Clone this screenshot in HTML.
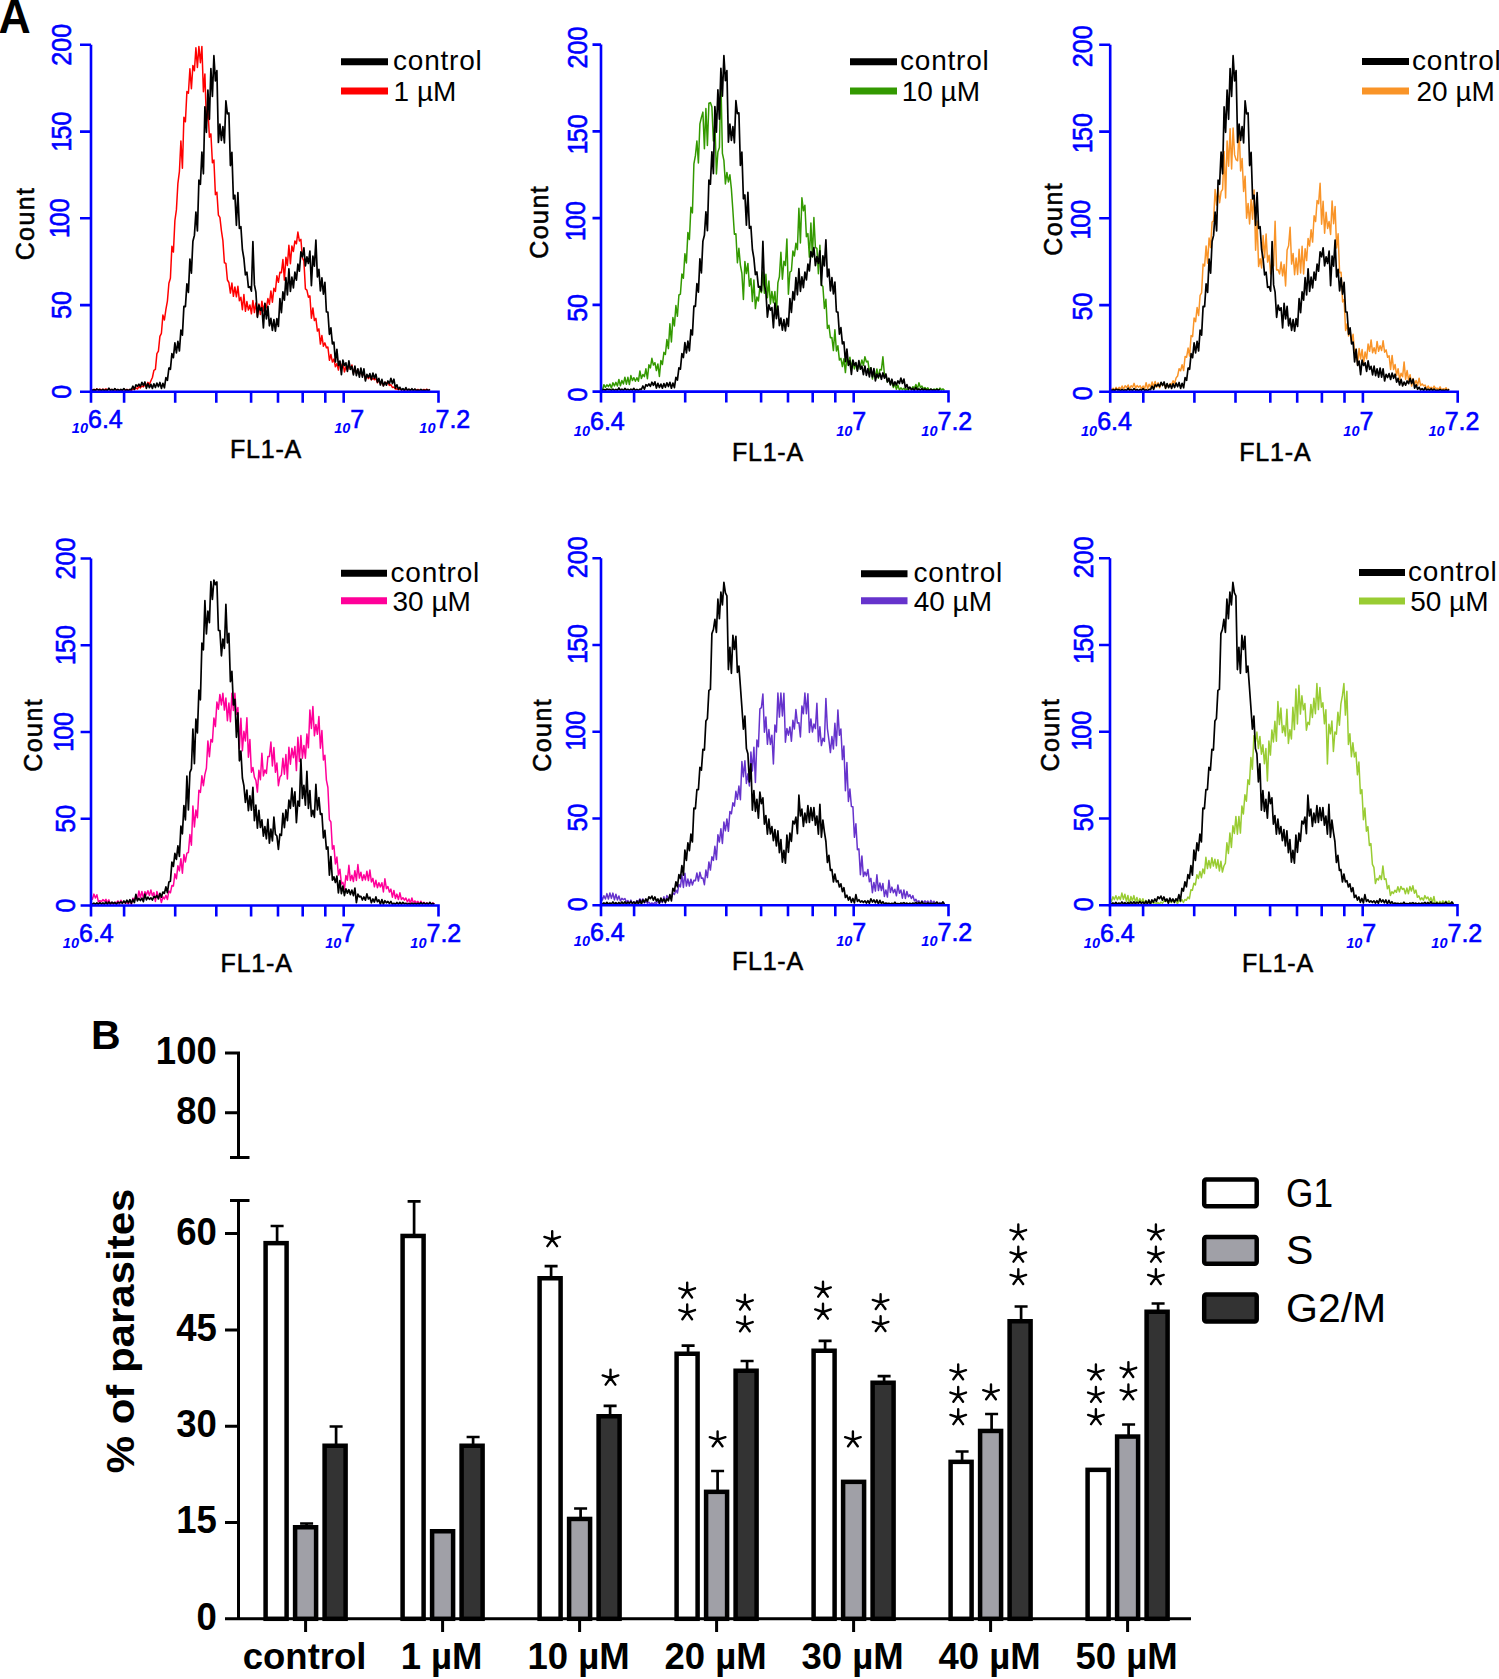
<!DOCTYPE html><html><head><meta charset="utf-8"><style>html,body{margin:0;padding:0;background:#fff;}svg{display:block;font-family:"Liberation Sans", sans-serif;}</style></head><body>
<svg width="1499" height="1679" viewBox="0 0 1499 1679">
<rect width="100%" height="100%" fill="#fff"/>
<text transform="translate(-1.5,32.8) scale(0.93,1)" font-size="48" font-weight="bold" fill="#000">A</text>
<path d="M90.9,388.9 L92.4,390.0 L93.9,389.5 L95.4,390.1 L96.9,388.9 L98.4,390.6 L99.9,389.1 L101.4,389.9 L102.9,389.3 L104.4,389.9 L105.9,388.9 L107.4,389.8 L108.9,388.8 L110.4,390.1 L111.9,389.5 L113.4,390.3 L114.9,389.7 L116.4,390.0 L117.9,389.5 L119.4,390.5 L120.9,389.6 L122.4,390.6 L123.9,389.4 L125.4,390.2 L126.9,389.5 L128.4,390.4 L129.9,389.6 L131.4,390.5 L132.9,388.9 L134.4,389.5 L135.9,387.8 L137.4,389.0 L138.9,386.5 L140.4,387.9 L141.9,385.9 L143.4,386.9 L144.9,384.9 L146.4,386.0 L147.9,382.4 L149.4,384.5 L150.9,380.8 L152.4,377.5 L153.9,370.3 L155.4,369.4 L156.9,353.6 L158.4,351.1 L159.9,336.3 L161.4,333.3 L162.9,315.1 L164.4,320.0 L165.9,309.3 L167.4,301.1 L168.9,283.3 L170.4,278.3 L171.9,246.2 L173.4,252.1 L174.9,220.5 L176.4,209.9 L177.9,183.3 L179.4,171.6 L180.9,140.9 L182.4,168.3 L183.9,117.3 L185.4,121.7 L186.9,91.6 L188.4,93.3 L189.9,68.8 L191.4,88.7 L192.9,65.4 L194.4,70.7 L195.9,47.8 L197.4,67.4 L198.9,46.4 L200.4,62.8 L201.9,46.4 L203.4,91.7 L204.9,73.9 L206.4,121.5 L207.9,108.6 L209.4,137.3 L210.9,133.9 L212.4,162.8 L213.9,160.0 L215.4,194.7 L216.9,192.2 L218.4,215.1 L219.9,217.3 L221.4,230.6 L222.9,240.6 L224.4,262.7 L225.9,263.4 L227.4,280.0 L228.9,282.5 L230.4,293.1 L231.9,283.0 L233.4,296.3 L234.9,286.9 L236.4,296.8 L237.9,286.3 L239.4,300.8 L240.9,297.3 L242.4,309.7 L243.9,294.5 L245.4,311.3 L246.9,301.6 L248.4,310.1 L249.9,304.9 L251.4,313.8 L252.9,300.4 L254.4,312.6 L255.9,302.9 L257.4,316.4 L258.9,303.9 L260.4,314.4 L261.9,301.2 L263.4,310.9 L264.9,303.6 L266.4,307.9 L267.9,298.6 L269.4,304.3 L270.9,290.9 L272.4,302.2 L273.9,288.2 L275.4,291.4 L276.9,275.8 L278.4,282.3 L279.9,272.2 L281.4,272.8 L282.9,259.6 L284.4,280.1 L285.9,257.2 L287.4,265.5 L288.9,245.2 L290.4,263.8 L291.9,245.9 L293.4,251.5 L294.9,240.9 L296.4,243.8 L297.9,232.0 L299.4,241.0 L300.9,239.4 L302.4,258.0 L303.9,260.9 L305.4,288.9 L306.9,290.1 L308.4,297.2 L309.9,295.9 L311.4,318.2 L312.9,307.9 L314.4,320.6 L315.9,318.3 L317.4,331.1 L318.9,328.9 L320.4,344.1 L321.9,335.5 L323.4,346.3 L324.9,342.9 L326.4,347.7 L327.9,347.0 L329.4,360.2 L330.9,354.5 L332.4,362.1 L333.9,359.0 L335.4,366.8 L336.9,363.6 L338.4,370.1 L339.9,361.4 L341.4,368.7 L342.9,362.0 L344.4,372.0 L345.9,366.7 L347.4,370.0 L348.9,365.2 L350.4,369.2 L351.9,364.9 L353.4,373.3 L354.9,368.6 L356.4,373.1 L357.9,369.5 L359.4,374.3 L360.9,371.6 L362.4,375.8 L363.9,372.5 L365.4,379.3 L366.9,375.6 L368.4,378.6 L369.9,376.8 L371.4,379.9 L372.9,378.0 L374.4,379.7 L375.9,378.5 L377.4,382.8 L378.9,380.3 L380.4,383.4 L381.9,382.7 L383.4,385.7 L384.9,382.3 L386.4,383.0 L387.9,382.6 L389.4,385.4 L390.9,384.7 L392.4,387.5 L393.9,387.1 L395.4,388.9 L396.9,388.7 L398.4,389.7 L399.9,389.0 L401.4,390.0 L402.9,389.6 L404.4,390.3 L405.9,389.3 L407.4,390.2 L408.9,389.5 L410.4,390.0 L411.9,389.5 L413.4,390.1 L414.9,389.5 L416.4,390.4 L417.9,389.4 L419.4,390.5 L420.9,389.9 L422.4,390.4 L423.9,389.5 L425.4,390.1 L426.9,389.2 L428.4,390.6 L429.9,389.5" fill="none" stroke="#ff0000" stroke-width="1.5" stroke-linejoin="round"/>
<path d="M90.9,389.2 L92.4,390.6 L93.9,389.6 L95.4,390.5 L96.9,389.2 L98.4,389.8 L99.9,389.6 L101.4,390.6 L102.9,389.3 L104.4,390.6 L105.9,389.6 L107.4,390.6 L108.9,388.2 L110.4,390.4 L111.9,389.4 L113.4,390.6 L114.9,388.6 L116.4,390.3 L117.9,389.5 L119.4,390.6 L120.9,389.4 L122.4,390.3 L123.9,388.6 L125.4,390.6 L126.9,389.6 L128.4,390.6 L129.9,389.4 L131.4,389.6 L132.9,386.2 L134.4,389.4 L135.9,384.9 L137.4,386.2 L138.9,384.2 L140.4,386.5 L141.9,382.4 L143.4,385.5 L144.9,382.0 L146.4,388.3 L147.9,383.5 L149.4,387.7 L150.9,384.3 L152.4,388.4 L153.9,383.8 L155.4,387.5 L156.9,383.0 L158.4,386.7 L159.9,382.5 L161.4,388.4 L162.9,383.3 L164.4,387.8 L165.9,377.6 L167.4,380.3 L168.9,368.0 L170.4,369.3 L171.9,353.7 L173.4,357.7 L174.9,342.9 L176.4,353.0 L177.9,341.4 L179.4,351.0 L180.9,330.1 L182.4,335.1 L183.9,306.4 L185.4,306.6 L186.9,283.9 L188.4,292.4 L189.9,259.1 L191.4,273.1 L192.9,241.3 L194.4,235.4 L195.9,212.0 L197.4,230.9 L198.9,180.2 L200.4,184.3 L201.9,152.0 L203.4,173.8 L204.9,106.8 L206.4,132.3 L207.9,90.1 L209.4,119.3 L210.9,68.5 L212.4,96.4 L213.9,55.7 L215.4,80.9 L216.9,70.7 L218.4,142.4 L219.9,124.2 L221.4,140.5 L222.9,126.7 L224.4,143.0 L225.9,100.9 L227.4,113.8 L228.9,113.0 L230.4,165.6 L231.9,152.4 L233.4,199.0 L234.9,195.2 L236.4,225.3 L237.9,192.6 L239.4,228.5 L240.9,226.7 L242.4,249.7 L243.9,258.5 L245.4,274.8 L246.9,272.2 L248.4,287.3 L249.9,286.7 L251.4,291.1 L252.9,241.6 L254.4,284.9 L255.9,292.2 L257.4,317.3 L258.9,305.1 L260.4,310.3 L261.9,307.8 L263.4,328.0 L264.9,303.4 L266.4,318.9 L267.9,306.4 L269.4,325.8 L270.9,318.4 L272.4,330.4 L273.9,319.7 L275.4,331.2 L276.9,318.6 L278.4,326.5 L279.9,298.7 L281.4,312.7 L282.9,291.9 L284.4,300.2 L285.9,277.7 L287.4,295.0 L288.9,268.9 L290.4,291.5 L291.9,277.0 L293.4,287.9 L294.9,272.2 L296.4,280.1 L297.9,264.2 L299.4,271.2 L300.9,251.8 L302.4,256.8 L303.9,247.9 L305.4,265.9 L306.9,256.8 L308.4,263.5 L309.9,251.0 L311.4,285.7 L312.9,256.1 L314.4,266.2 L315.9,240.0 L317.4,277.0 L318.9,269.3 L320.4,291.0 L321.9,277.9 L323.4,294.2 L324.9,282.3 L326.4,312.0 L327.9,312.2 L329.4,334.3 L330.9,327.9 L332.4,344.0 L333.9,342.1 L335.4,361.9 L336.9,349.4 L338.4,365.5 L339.9,361.0 L341.4,374.7 L342.9,360.2 L344.4,365.5 L345.9,362.8 L347.4,371.4 L348.9,360.8 L350.4,369.4 L351.9,366.3 L353.4,374.8 L354.9,366.2 L356.4,375.6 L357.9,368.8 L359.4,377.1 L360.9,368.0 L362.4,377.1 L363.9,368.9 L365.4,381.0 L366.9,374.4 L368.4,377.5 L369.9,373.6 L371.4,379.5 L372.9,373.1 L374.4,378.3 L375.9,374.2 L377.4,382.2 L378.9,378.4 L380.4,385.0 L381.9,379.4 L383.4,386.0 L384.9,382.1 L386.4,385.2 L387.9,381.0 L389.4,383.7 L390.9,378.3 L392.4,383.6 L393.9,379.2 L395.4,388.1 L396.9,384.8 L398.4,389.3 L399.9,387.3 L401.4,390.0 L402.9,388.6 L404.4,390.6 L405.9,387.6 L407.4,390.4 L408.9,389.2 L410.4,390.5 L411.9,388.7 L413.4,390.6 L414.9,389.0 L416.4,390.6 L417.9,390.0 L419.4,390.6 L420.9,389.3 L422.4,390.6 L423.9,390.0 L425.4,390.6 L426.9,389.6 L428.4,390.6 L429.9,389.3" fill="none" stroke="#000" stroke-width="1.7" stroke-linejoin="round"/>
<path d="M91.0,44.8 V391.8 H438.5 V402.8" fill="none" stroke="#0000ff" stroke-width="2.6"/>
<path d="M80.0,391.8 H91.0 M80.0,305.1 H91.0 M80.0,218.3 H91.0 M80.0,131.6 H91.0 M80.0,44.8 H91.0 M91.0,391.8 V402.8 M124.1,391.8 V402.8 M175.2,391.8 V402.8 M216.3,391.8 V402.8 M251.1,391.8 V402.8 M278.0,391.8 V402.8 M302.7,391.8 V402.8 M325.3,391.8 V402.8 M343.7,391.8 V402.8 " fill="none" stroke="#0000ff" stroke-width="2.6"/>
<text transform="translate(71.0,391.8) rotate(-90) scale(0.88,1)" font-size="28.5" fill="#0000ff" stroke="#0000ff" stroke-width="0.6" text-anchor="middle">0</text>
<text transform="translate(71.0,305.1) rotate(-90) scale(0.88,1)" font-size="28.5" fill="#0000ff" stroke="#0000ff" stroke-width="0.6" text-anchor="middle">50</text>
<text transform="translate(69.0,218.3) rotate(-90) scale(0.88,1)" font-size="28.5" fill="#0000ff" stroke="#0000ff" stroke-width="0.6" text-anchor="middle">1<tspan dx="-2">00</tspan></text>
<text transform="translate(71.0,131.6) rotate(-90) scale(0.88,1)" font-size="28.5" fill="#0000ff" stroke="#0000ff" stroke-width="0.6" text-anchor="middle">1<tspan dx="-2">50</tspan></text>
<text transform="translate(71.0,44.8) rotate(-90) scale(0.88,1)" font-size="28.5" fill="#0000ff" stroke="#0000ff" stroke-width="0.6" text-anchor="middle">200</text>
<text transform="translate(34.3,223.5) rotate(-90)" font-size="25" fill="#000" stroke="#000" stroke-width="0.55" text-anchor="middle" letter-spacing="1.4">Count</text>
<text x="88.0" y="433.3" font-size="14.5" font-weight="bold" fill="#0000ff" text-anchor="end" font-style="italic">10</text>
<text x="88.0" y="427.8" font-size="25" fill="#0000ff" stroke="#0000ff" stroke-width="0.6">6.4</text>
<text x="350.3" y="433.3" font-size="14.5" font-weight="bold" fill="#0000ff" text-anchor="end" font-style="italic">10</text>
<text x="350.3" y="427.8" font-size="25" fill="#0000ff" stroke="#0000ff" stroke-width="0.6">7</text>
<text x="435.5" y="433.3" font-size="14.5" font-weight="bold" fill="#0000ff" text-anchor="end" font-style="italic">10</text>
<text x="435.5" y="427.8" font-size="25" fill="#0000ff" stroke="#0000ff" stroke-width="0.6">7.2</text>
<text x="230.0" y="458.0" font-size="25" fill="#000" stroke="#000" stroke-width="0.55" letter-spacing="0.8">FL1-A</text>
<path d="M341.0,61.8 H388.0" stroke="#000" stroke-width="7"/>
<path d="M341.0,91.0 H388.0" stroke="#ff0000" stroke-width="7"/>
<text x="393.0" y="70.3" font-size="28" fill="#000" letter-spacing="0.8">control</text>
<text x="393.6" y="100.8" font-size="28" fill="#000">1 µM</text>
<path d="M600.9,387.0 L602.4,390.4 L603.9,384.7 L605.4,387.4 L606.9,384.8 L608.4,386.6 L609.9,384.1 L611.4,388.1 L612.9,382.7 L614.4,385.9 L615.9,382.4 L617.4,386.0 L618.9,379.4 L620.4,385.8 L621.9,380.5 L623.4,384.0 L624.9,377.2 L626.4,384.2 L627.9,377.3 L629.4,384.5 L630.9,375.6 L632.4,380.6 L633.9,377.7 L635.4,381.3 L636.9,377.8 L638.4,381.3 L639.9,370.9 L641.4,378.5 L642.9,374.4 L644.4,376.7 L645.9,368.8 L647.4,378.7 L648.9,364.8 L650.4,367.9 L651.9,358.3 L653.4,365.1 L654.9,362.7 L656.4,370.5 L657.9,364.0 L659.4,376.5 L660.9,360.4 L662.4,364.5 L663.9,352.3 L665.4,354.5 L666.9,339.6 L668.4,348.6 L669.9,323.7 L671.4,341.9 L672.9,317.6 L674.4,325.9 L675.9,305.5 L677.4,316.3 L678.9,295.0 L680.4,294.1 L681.9,273.9 L683.4,278.3 L684.9,253.7 L686.4,262.9 L687.9,232.4 L689.4,239.5 L690.9,207.3 L692.4,212.9 L693.9,163.9 L695.4,155.7 L696.9,140.9 L698.4,163.0 L699.9,123.9 L701.4,117.4 L702.9,112.1 L704.4,148.7 L705.9,108.6 L707.4,145.5 L708.9,103.3 L710.4,102.6 L711.9,107.1 L713.4,140.9 L714.9,123.0 L716.4,174.0 L717.9,151.9 L719.4,147.6 L720.9,78.9 L722.4,153.4 L723.9,160.4 L725.4,183.9 L726.9,172.4 L728.4,181.9 L729.9,174.8 L731.4,189.1 L732.9,210.8 L734.4,234.2 L735.9,233.7 L737.4,262.8 L738.9,248.3 L740.4,265.1 L741.9,273.5 L743.4,299.5 L744.9,261.6 L746.4,273.6 L747.9,263.4 L749.4,286.2 L750.9,278.5 L752.4,301.4 L753.9,280.1 L755.4,308.6 L756.9,297.0 L758.4,301.0 L759.9,287.1 L761.4,292.6 L762.9,272.0 L764.4,293.2 L765.9,274.2 L767.4,297.7 L768.9,281.0 L770.4,303.9 L771.9,291.4 L773.4,302.7 L774.9,291.5 L776.4,314.1 L777.9,282.6 L779.4,276.6 L780.9,252.3 L782.4,279.2 L783.9,261.3 L785.4,265.5 L786.9,238.9 L788.4,294.2 L789.9,272.2 L791.4,271.0 L792.9,251.0 L794.4,256.0 L795.9,243.2 L797.4,249.6 L798.9,208.2 L800.4,243.0 L801.9,197.8 L803.4,210.7 L804.9,205.3 L806.4,236.7 L807.9,233.6 L809.4,257.1 L810.9,223.1 L812.4,257.0 L813.9,217.6 L815.4,247.5 L816.9,248.3 L818.4,273.7 L819.9,245.2 L821.4,284.8 L822.9,286.5 L824.4,308.4 L825.9,299.3 L827.4,328.5 L828.9,325.2 L830.4,337.7 L831.9,337.6 L833.4,350.6 L834.9,329.8 L836.4,351.0 L837.9,345.8 L839.4,360.1 L840.9,358.4 L842.4,366.6 L843.9,358.8 L845.4,372.6 L846.9,356.7 L848.4,364.9 L849.9,357.2 L851.4,367.2 L852.9,361.1 L854.4,368.9 L855.9,363.3 L857.4,370.0 L858.9,366.1 L860.4,366.1 L861.9,360.0 L863.4,365.3 L864.9,356.7 L866.4,361.9 L867.9,361.1 L869.4,371.3 L870.9,367.7 L872.4,379.0 L873.9,371.2 L875.4,376.6 L876.9,368.9 L878.4,378.2 L879.9,369.4 L881.4,369.9 L882.9,356.8 L884.4,374.5 L885.9,375.5 L887.4,381.9 L888.9,379.1 L890.4,383.3 L891.9,382.3 L893.4,387.6 L894.9,383.7 L896.4,389.3 L897.9,385.1 L899.4,390.1 L900.9,387.8 L902.4,389.7 L903.9,388.3 L905.4,390.4 L906.9,388.8 L908.4,390.1 L909.9,387.7 L911.4,389.3 L912.9,386.7 L914.4,388.3 L915.9,384.4 L917.4,389.1 L918.9,382.8 L920.4,387.5 L921.9,386.0 L923.4,388.9 L924.9,387.5 L926.4,389.3 L927.9,387.9 L929.4,390.3 L930.9,389.1 L932.4,390.0 L933.9,389.0 L935.4,389.8 L936.9,388.6 L938.4,390.4 L939.9,388.1 L941.4,389.9 L942.9,388.9 L944.4,390.4" fill="none" stroke="#339900" stroke-width="1.5" stroke-linejoin="round"/>
<path d="M600.9,389.0 L602.4,390.4 L603.9,389.4 L605.4,390.3 L606.9,389.0 L608.4,389.6 L609.9,389.4 L611.4,390.4 L612.9,389.1 L614.4,390.4 L615.9,389.4 L617.4,390.4 L618.9,388.0 L620.4,390.2 L621.9,389.2 L623.4,390.4 L624.9,388.4 L626.4,390.1 L627.9,389.3 L629.4,390.4 L630.9,389.2 L632.4,390.1 L633.9,388.4 L635.4,390.4 L636.9,389.4 L638.4,390.4 L639.9,389.2 L641.4,389.4 L642.9,386.0 L644.4,389.2 L645.9,384.7 L647.4,386.0 L648.9,384.0 L650.4,386.3 L651.9,382.2 L653.4,385.3 L654.9,381.8 L656.4,388.1 L657.9,383.3 L659.4,387.5 L660.9,384.1 L662.4,388.2 L663.9,383.6 L665.4,387.3 L666.9,382.8 L668.4,386.5 L669.9,382.3 L671.4,388.2 L672.9,383.1 L674.4,387.6 L675.9,377.4 L677.4,380.1 L678.9,367.8 L680.4,369.1 L681.9,353.5 L683.4,357.5 L684.9,342.7 L686.4,352.8 L687.9,341.2 L689.4,350.8 L690.9,329.9 L692.4,334.9 L693.9,306.2 L695.4,306.4 L696.9,283.7 L698.4,292.2 L699.9,258.9 L701.4,272.9 L702.9,241.1 L704.4,235.2 L705.9,211.8 L707.4,230.7 L708.9,180.0 L710.4,184.1 L711.9,151.8 L713.4,173.6 L714.9,106.6 L716.4,132.1 L717.9,89.9 L719.4,119.1 L720.9,68.3 L722.4,96.2 L723.9,55.5 L725.4,80.7 L726.9,70.5 L728.4,142.2 L729.9,124.0 L731.4,140.3 L732.9,126.5 L734.4,142.8 L735.9,100.7 L737.4,113.6 L738.9,112.8 L740.4,165.4 L741.9,152.2 L743.4,198.8 L744.9,195.0 L746.4,225.1 L747.9,192.4 L749.4,228.3 L750.9,226.5 L752.4,249.5 L753.9,258.3 L755.4,274.6 L756.9,272.0 L758.4,287.1 L759.9,286.5 L761.4,290.9 L762.9,241.4 L764.4,284.7 L765.9,292.0 L767.4,317.1 L768.9,304.9 L770.4,310.1 L771.9,307.6 L773.4,327.8 L774.9,303.2 L776.4,318.7 L777.9,306.2 L779.4,325.6 L780.9,318.2 L782.4,330.2 L783.9,319.5 L785.4,331.0 L786.9,318.4 L788.4,326.3 L789.9,298.5 L791.4,312.5 L792.9,291.7 L794.4,300.0 L795.9,277.5 L797.4,294.8 L798.9,268.7 L800.4,291.3 L801.9,276.8 L803.4,287.7 L804.9,272.0 L806.4,279.9 L807.9,264.0 L809.4,271.0 L810.9,251.6 L812.4,256.6 L813.9,247.7 L815.4,265.7 L816.9,256.6 L818.4,263.3 L819.9,250.8 L821.4,285.5 L822.9,255.9 L824.4,266.0 L825.9,239.8 L827.4,276.8 L828.9,269.1 L830.4,290.8 L831.9,277.7 L833.4,294.0 L834.9,282.1 L836.4,311.8 L837.9,312.0 L839.4,334.1 L840.9,327.7 L842.4,343.8 L843.9,341.9 L845.4,361.7 L846.9,349.2 L848.4,365.3 L849.9,360.8 L851.4,374.5 L852.9,360.0 L854.4,365.3 L855.9,362.6 L857.4,371.2 L858.9,360.6 L860.4,369.2 L861.9,366.1 L863.4,374.6 L864.9,366.0 L866.4,375.4 L867.9,368.6 L869.4,376.9 L870.9,367.8 L872.4,376.9 L873.9,368.7 L875.4,380.8 L876.9,374.2 L878.4,377.3 L879.9,373.4 L881.4,379.3 L882.9,372.9 L884.4,378.1 L885.9,374.0 L887.4,382.0 L888.9,378.2 L890.4,384.8 L891.9,379.2 L893.4,385.8 L894.9,381.9 L896.4,385.0 L897.9,380.8 L899.4,383.5 L900.9,378.1 L902.4,383.4 L903.9,379.0 L905.4,387.9 L906.9,384.6 L908.4,389.1 L909.9,387.1 L911.4,389.8 L912.9,388.4 L914.4,390.4 L915.9,387.4 L917.4,390.2 L918.9,389.0 L920.4,390.3 L921.9,388.5 L923.4,390.4 L924.9,388.8 L926.4,390.4 L927.9,389.8 L929.4,390.4 L930.9,389.1 L932.4,390.4 L933.9,389.8 L935.4,390.4 L936.9,389.4 L938.4,390.4 L939.9,389.1" fill="none" stroke="#000" stroke-width="1.7" stroke-linejoin="round"/>
<path d="M601.0,44.6 V391.6 H948.5 V402.6" fill="none" stroke="#0000ff" stroke-width="2.6"/>
<path d="M592.5,391.6 H601.0 M592.5,304.9 H601.0 M592.5,218.1 H601.0 M592.5,131.4 H601.0 M592.5,44.6 H601.0 M601.0,391.6 V402.6 M634.1,391.6 V402.6 M685.2,391.6 V402.6 M726.3,391.6 V402.6 M761.1,391.6 V402.6 M788.0,391.6 V402.6 M812.7,391.6 V402.6 M835.3,391.6 V402.6 M853.7,391.6 V402.6 " fill="none" stroke="#0000ff" stroke-width="2.6"/>
<text transform="translate(586.5,394.6) rotate(-90) scale(0.88,1)" font-size="28.5" fill="#0000ff" stroke="#0000ff" stroke-width="0.6" text-anchor="middle">0</text>
<text transform="translate(586.5,307.9) rotate(-90) scale(0.88,1)" font-size="28.5" fill="#0000ff" stroke="#0000ff" stroke-width="0.6" text-anchor="middle">50</text>
<text transform="translate(584.5,221.1) rotate(-90) scale(0.88,1)" font-size="28.5" fill="#0000ff" stroke="#0000ff" stroke-width="0.6" text-anchor="middle">1<tspan dx="-2">00</tspan></text>
<text transform="translate(586.5,134.4) rotate(-90) scale(0.88,1)" font-size="28.5" fill="#0000ff" stroke="#0000ff" stroke-width="0.6" text-anchor="middle">1<tspan dx="-2">50</tspan></text>
<text transform="translate(586.5,47.6) rotate(-90) scale(0.88,1)" font-size="28.5" fill="#0000ff" stroke="#0000ff" stroke-width="0.6" text-anchor="middle">200</text>
<text transform="translate(547.8,221.8) rotate(-90)" font-size="25" fill="#000" stroke="#000" stroke-width="0.55" text-anchor="middle" letter-spacing="1.4">Count</text>
<text x="590.0" y="435.9" font-size="14.5" font-weight="bold" fill="#0000ff" text-anchor="end" font-style="italic">10</text>
<text x="590.0" y="430.4" font-size="25" fill="#0000ff" stroke="#0000ff" stroke-width="0.6">6.4</text>
<text x="852.3" y="435.9" font-size="14.5" font-weight="bold" fill="#0000ff" text-anchor="end" font-style="italic">10</text>
<text x="852.3" y="430.4" font-size="25" fill="#0000ff" stroke="#0000ff" stroke-width="0.6">7</text>
<text x="937.5" y="435.9" font-size="14.5" font-weight="bold" fill="#0000ff" text-anchor="end" font-style="italic">10</text>
<text x="937.5" y="430.4" font-size="25" fill="#0000ff" stroke="#0000ff" stroke-width="0.6">7.2</text>
<text x="731.9" y="460.7" font-size="25" fill="#000" stroke="#000" stroke-width="0.55" letter-spacing="0.8">FL1-A</text>
<path d="M850.0,61.7 H897.0" stroke="#000" stroke-width="7"/>
<path d="M850.0,91.0 H897.0" stroke="#339900" stroke-width="7"/>
<text x="900.0" y="70.2" font-size="28" fill="#000" letter-spacing="0.8">control</text>
<text x="901.7" y="100.8" font-size="28" fill="#000">10 µM</text>
<path d="M1110.1,388.3 L1111.6,389.9 L1113.1,388.3 L1114.6,390.4 L1116.1,387.4 L1117.6,390.1 L1119.1,387.3 L1120.6,389.2 L1122.1,386.0 L1123.6,389.2 L1125.1,385.7 L1126.6,387.6 L1128.1,385.0 L1129.6,389.0 L1131.1,385.7 L1132.6,387.2 L1134.1,383.4 L1135.6,388.1 L1137.1,385.5 L1138.6,387.2 L1140.1,385.7 L1141.6,388.9 L1143.1,386.0 L1144.6,388.9 L1146.1,382.8 L1147.6,388.5 L1149.1,384.2 L1150.6,387.5 L1152.1,382.0 L1153.6,387.0 L1155.1,381.4 L1156.6,387.2 L1158.1,382.8 L1159.6,387.8 L1161.1,383.4 L1162.6,385.1 L1164.1,384.0 L1165.6,388.2 L1167.1,384.8 L1168.6,386.7 L1170.1,383.6 L1171.6,384.7 L1173.1,380.8 L1174.6,383.5 L1176.1,377.9 L1177.6,376.0 L1179.1,368.7 L1180.6,370.8 L1182.1,364.8 L1183.6,370.6 L1185.1,356.5 L1186.6,357.2 L1188.1,348.1 L1189.6,356.1 L1191.1,335.5 L1192.6,336.6 L1194.1,318.0 L1195.6,321.6 L1197.1,307.5 L1198.6,315.5 L1200.1,295.3 L1201.6,292.8 L1203.1,264.1 L1204.6,266.0 L1206.1,246.1 L1207.6,263.2 L1209.1,238.0 L1210.6,247.6 L1212.1,222.0 L1213.6,220.9 L1215.1,189.5 L1216.6,205.1 L1218.1,188.1 L1219.6,202.7 L1221.1,191.7 L1222.6,189.3 L1224.1,151.5 L1225.6,198.0 L1227.1,140.9 L1228.6,166.3 L1230.1,128.7 L1231.6,169.0 L1233.1,128.1 L1234.6,154.9 L1236.1,159.7 L1237.6,160.8 L1239.1,128.1 L1240.6,171.0 L1242.1,158.6 L1243.6,191.5 L1245.1,176.3 L1246.6,218.2 L1248.1,203.4 L1249.6,224.0 L1251.1,199.4 L1252.6,219.3 L1254.1,189.9 L1255.6,250.3 L1257.1,221.0 L1258.6,266.5 L1260.1,258.8 L1261.6,268.0 L1263.1,235.5 L1264.6,257.8 L1266.1,234.1 L1267.6,262.1 L1269.1,255.2 L1270.6,274.0 L1272.1,260.7 L1273.6,265.9 L1275.1,221.2 L1276.6,270.1 L1278.1,269.8 L1279.6,273.9 L1281.1,262.0 L1282.6,275.8 L1284.1,264.6 L1285.6,285.9 L1287.1,250.0 L1288.6,245.7 L1290.1,227.2 L1291.6,264.1 L1293.1,253.4 L1294.6,274.7 L1296.1,258.0 L1297.6,274.5 L1299.1,249.3 L1300.6,273.0 L1302.1,246.2 L1303.6,273.9 L1305.1,248.7 L1306.6,260.6 L1308.1,238.4 L1309.6,246.0 L1311.1,229.7 L1312.6,242.1 L1314.1,215.8 L1315.6,221.5 L1317.1,200.5 L1318.6,203.7 L1320.1,183.3 L1321.6,224.3 L1323.1,201.3 L1324.6,233.3 L1326.1,212.2 L1327.6,228.4 L1329.1,221.5 L1330.6,234.4 L1332.1,201.0 L1333.6,223.8 L1335.1,206.6 L1336.6,247.9 L1338.1,233.8 L1339.6,272.7 L1341.1,272.2 L1342.6,301.9 L1344.1,299.5 L1345.6,330.5 L1347.1,323.7 L1348.6,336.1 L1350.1,330.9 L1351.6,342.3 L1353.1,334.2 L1354.6,354.4 L1356.1,349.0 L1357.6,364.9 L1359.1,348.4 L1360.6,359.0 L1362.1,349.5 L1363.6,363.7 L1365.1,351.9 L1366.6,358.8 L1368.1,344.1 L1369.6,351.3 L1371.1,339.9 L1372.6,352.8 L1374.1,347.8 L1375.6,353.6 L1377.1,341.4 L1378.6,351.3 L1380.1,345.8 L1381.6,350.5 L1383.1,340.8 L1384.6,352.2 L1386.1,349.8 L1387.6,357.3 L1389.1,355.7 L1390.6,369.5 L1392.1,355.4 L1393.6,369.6 L1395.1,364.5 L1396.6,375.3 L1398.1,368.7 L1399.6,379.5 L1401.1,373.2 L1402.6,376.8 L1404.1,361.9 L1405.6,379.4 L1407.1,370.5 L1408.6,380.3 L1410.1,374.7 L1411.6,386.1 L1413.1,378.5 L1414.6,384.4 L1416.1,380.4 L1417.6,385.3 L1419.1,378.2 L1420.6,385.5 L1422.1,383.9 L1423.6,385.8 L1425.1,385.1 L1426.6,388.8 L1428.1,386.0 L1429.6,388.5 L1431.1,387.2 L1432.6,389.2 L1434.1,386.1 L1435.6,388.7 L1437.1,388.2 L1438.6,389.4 L1440.1,386.8 L1441.6,390.4 L1443.1,388.7 L1444.6,389.6 L1446.1,387.8 L1447.6,390.4 L1449.1,388.9" fill="none" stroke="#f99428" stroke-width="1.5" stroke-linejoin="round"/>
<path d="M1110.1,389.2 L1111.6,390.6 L1113.1,389.6 L1114.6,390.5 L1116.1,389.2 L1117.6,389.8 L1119.1,389.6 L1120.6,390.6 L1122.1,389.3 L1123.6,390.6 L1125.1,389.6 L1126.6,390.6 L1128.1,388.2 L1129.6,390.4 L1131.1,389.4 L1132.6,390.6 L1134.1,388.6 L1135.6,390.3 L1137.1,389.5 L1138.6,390.6 L1140.1,389.4 L1141.6,390.3 L1143.1,388.6 L1144.6,390.6 L1146.1,389.6 L1147.6,390.6 L1149.1,389.4 L1150.6,389.6 L1152.1,386.2 L1153.6,389.4 L1155.1,384.9 L1156.6,386.2 L1158.1,384.2 L1159.6,386.5 L1161.1,382.4 L1162.6,385.5 L1164.1,382.0 L1165.6,388.3 L1167.1,383.5 L1168.6,387.7 L1170.1,384.3 L1171.6,388.4 L1173.1,383.8 L1174.6,387.5 L1176.1,383.0 L1177.6,386.7 L1179.1,382.5 L1180.6,388.4 L1182.1,383.3 L1183.6,387.8 L1185.1,377.6 L1186.6,380.3 L1188.1,368.0 L1189.6,369.3 L1191.1,353.7 L1192.6,357.7 L1194.1,342.9 L1195.6,353.0 L1197.1,341.4 L1198.6,351.0 L1200.1,330.1 L1201.6,335.1 L1203.1,306.4 L1204.6,306.6 L1206.1,283.9 L1207.6,292.4 L1209.1,259.1 L1210.6,273.1 L1212.1,241.3 L1213.6,235.4 L1215.1,212.0 L1216.6,230.9 L1218.1,180.2 L1219.6,184.3 L1221.1,152.0 L1222.6,173.8 L1224.1,106.8 L1225.6,132.3 L1227.1,90.1 L1228.6,119.3 L1230.1,68.5 L1231.6,96.4 L1233.1,55.7 L1234.6,80.9 L1236.1,70.7 L1237.6,142.4 L1239.1,124.2 L1240.6,140.5 L1242.1,126.7 L1243.6,143.0 L1245.1,100.9 L1246.6,113.8 L1248.1,113.0 L1249.6,165.6 L1251.1,152.4 L1252.6,199.0 L1254.1,195.2 L1255.6,225.3 L1257.1,192.6 L1258.6,228.5 L1260.1,226.7 L1261.6,249.7 L1263.1,258.5 L1264.6,274.8 L1266.1,272.2 L1267.6,287.3 L1269.1,286.7 L1270.6,291.1 L1272.1,241.6 L1273.6,284.9 L1275.1,292.2 L1276.6,317.3 L1278.1,305.1 L1279.6,310.3 L1281.1,307.8 L1282.6,328.0 L1284.1,303.4 L1285.6,318.9 L1287.1,306.4 L1288.6,325.8 L1290.1,318.4 L1291.6,330.4 L1293.1,319.7 L1294.6,331.2 L1296.1,318.6 L1297.6,326.5 L1299.1,298.7 L1300.6,312.7 L1302.1,291.9 L1303.6,300.2 L1305.1,277.7 L1306.6,295.0 L1308.1,268.9 L1309.6,291.5 L1311.1,277.0 L1312.6,287.9 L1314.1,272.2 L1315.6,280.1 L1317.1,264.2 L1318.6,271.2 L1320.1,251.8 L1321.6,256.8 L1323.1,247.9 L1324.6,265.9 L1326.1,256.8 L1327.6,263.5 L1329.1,251.0 L1330.6,285.7 L1332.1,256.1 L1333.6,266.2 L1335.1,240.0 L1336.6,277.0 L1338.1,269.3 L1339.6,291.0 L1341.1,277.9 L1342.6,294.2 L1344.1,282.3 L1345.6,312.0 L1347.1,312.2 L1348.6,334.3 L1350.1,327.9 L1351.6,344.0 L1353.1,342.1 L1354.6,361.9 L1356.1,349.4 L1357.6,365.5 L1359.1,361.0 L1360.6,374.7 L1362.1,360.2 L1363.6,365.5 L1365.1,362.8 L1366.6,371.4 L1368.1,360.8 L1369.6,369.4 L1371.1,366.3 L1372.6,374.8 L1374.1,366.2 L1375.6,375.6 L1377.1,368.8 L1378.6,377.1 L1380.1,368.0 L1381.6,377.1 L1383.1,368.9 L1384.6,381.0 L1386.1,374.4 L1387.6,377.5 L1389.1,373.6 L1390.6,379.5 L1392.1,373.1 L1393.6,378.3 L1395.1,374.2 L1396.6,382.2 L1398.1,378.4 L1399.6,385.0 L1401.1,379.4 L1402.6,386.0 L1404.1,382.1 L1405.6,385.2 L1407.1,381.0 L1408.6,383.7 L1410.1,378.3 L1411.6,383.6 L1413.1,379.2 L1414.6,388.1 L1416.1,384.8 L1417.6,389.3 L1419.1,387.3 L1420.6,390.0 L1422.1,388.6 L1423.6,390.6 L1425.1,387.6 L1426.6,390.4 L1428.1,389.2 L1429.6,390.5 L1431.1,388.7 L1432.6,390.6 L1434.1,389.0 L1435.6,390.6 L1437.1,390.0 L1438.6,390.6 L1440.1,389.3 L1441.6,390.6 L1443.1,390.0 L1444.6,390.6 L1446.1,389.6 L1447.6,390.6 L1449.1,389.3" fill="none" stroke="#000" stroke-width="1.7" stroke-linejoin="round"/>
<path d="M1110.2,44.8 V391.8 H1457.7 V402.8" fill="none" stroke="#0000ff" stroke-width="2.6"/>
<path d="M1099.2,391.8 H1110.2 M1099.2,305.1 H1110.2 M1099.2,218.3 H1110.2 M1099.2,131.6 H1110.2 M1099.2,44.8 H1110.2 M1110.2,391.8 V402.8 M1143.3,391.8 V402.8 M1194.4,391.8 V402.8 M1235.5,391.8 V402.8 M1270.3,391.8 V402.8 M1297.2,391.8 V402.8 M1321.9,391.8 V402.8 M1344.5,391.8 V402.8 M1362.9,391.8 V402.8 " fill="none" stroke="#0000ff" stroke-width="2.6"/>
<text transform="translate(1092.2,393.3) rotate(-90) scale(0.88,1)" font-size="28.5" fill="#0000ff" stroke="#0000ff" stroke-width="0.6" text-anchor="middle">0</text>
<text transform="translate(1092.2,306.6) rotate(-90) scale(0.88,1)" font-size="28.5" fill="#0000ff" stroke="#0000ff" stroke-width="0.6" text-anchor="middle">50</text>
<text transform="translate(1090.2,219.8) rotate(-90) scale(0.88,1)" font-size="28.5" fill="#0000ff" stroke="#0000ff" stroke-width="0.6" text-anchor="middle">1<tspan dx="-2">00</tspan></text>
<text transform="translate(1092.2,133.1) rotate(-90) scale(0.88,1)" font-size="28.5" fill="#0000ff" stroke="#0000ff" stroke-width="0.6" text-anchor="middle">1<tspan dx="-2">50</tspan></text>
<text transform="translate(1092.2,46.3) rotate(-90) scale(0.88,1)" font-size="28.5" fill="#0000ff" stroke="#0000ff" stroke-width="0.6" text-anchor="middle">200</text>
<text transform="translate(1061.6,218.8) rotate(-90)" font-size="25" fill="#000" stroke="#000" stroke-width="0.55" text-anchor="middle" letter-spacing="1.4">Count</text>
<text x="1097.2" y="435.8" font-size="14.5" font-weight="bold" fill="#0000ff" text-anchor="end" font-style="italic">10</text>
<text x="1097.2" y="430.3" font-size="25" fill="#0000ff" stroke="#0000ff" stroke-width="0.6">6.4</text>
<text x="1359.5" y="435.8" font-size="14.5" font-weight="bold" fill="#0000ff" text-anchor="end" font-style="italic">10</text>
<text x="1359.5" y="430.3" font-size="25" fill="#0000ff" stroke="#0000ff" stroke-width="0.6">7</text>
<text x="1444.7" y="435.8" font-size="14.5" font-weight="bold" fill="#0000ff" text-anchor="end" font-style="italic">10</text>
<text x="1444.7" y="430.3" font-size="25" fill="#0000ff" stroke="#0000ff" stroke-width="0.6">7.2</text>
<text x="1239.3" y="460.7" font-size="25" fill="#000" stroke="#000" stroke-width="0.55" letter-spacing="0.8">FL1-A</text>
<path d="M1362.0,61.6 H1409.0" stroke="#000" stroke-width="7"/>
<path d="M1362.0,90.9 H1409.0" stroke="#f99428" stroke-width="7"/>
<text x="1412.0" y="70.1" font-size="28" fill="#000" letter-spacing="0.8">control</text>
<text x="1416.5" y="100.7" font-size="28" fill="#000">20 µM</text>
<path d="M90.9,896.7 L92.4,899.4 L93.9,894.1 L95.4,898.0 L96.9,894.8 L98.4,901.8 L99.9,900.7 L101.4,901.7 L102.9,899.6 L104.4,901.2 L105.9,899.4 L107.4,902.6 L108.9,899.9 L110.4,904.3 L111.9,902.4 L113.4,904.3 L114.9,902.2 L116.4,902.9 L117.9,900.9 L119.4,904.3 L120.9,900.2 L122.4,902.8 L123.9,901.6 L125.4,903.1 L126.9,902.6 L128.4,903.9 L129.9,900.4 L131.4,904.3 L132.9,898.2 L134.4,900.9 L135.9,895.7 L137.4,899.6 L138.9,891.0 L140.4,897.8 L141.9,891.4 L143.4,898.3 L144.9,891.7 L146.4,894.8 L147.9,890.7 L149.4,895.6 L150.9,890.0 L152.4,895.7 L153.9,892.6 L155.4,901.5 L156.9,891.4 L158.4,896.3 L159.9,896.7 L161.4,902.5 L162.9,896.8 L164.4,899.0 L165.9,895.3 L167.4,899.5 L168.9,890.9 L170.4,892.8 L171.9,885.5 L173.4,886.0 L174.9,873.7 L176.4,878.8 L177.9,865.7 L179.4,870.9 L180.9,858.7 L182.4,873.2 L183.9,854.5 L185.4,862.0 L186.9,853.1 L188.4,852.5 L189.9,834.5 L191.4,845.2 L192.9,805.9 L194.4,827.0 L195.9,809.9 L197.4,817.7 L198.9,790.2 L200.4,792.4 L201.9,775.8 L203.4,785.7 L204.9,774.4 L206.4,768.3 L207.9,740.9 L209.4,756.7 L210.9,739.5 L212.4,742.0 L213.9,718.0 L215.4,726.6 L216.9,702.1 L218.4,709.2 L219.9,694.4 L221.4,705.0 L222.9,693.2 L224.4,710.1 L225.9,698.0 L227.4,720.7 L228.9,703.1 L230.4,721.8 L231.9,693.2 L233.4,710.5 L234.9,693.2 L236.4,714.4 L237.9,707.6 L239.4,748.4 L240.9,718.2 L242.4,750.7 L243.9,731.3 L245.4,740.9 L246.9,717.7 L248.4,757.3 L249.9,739.6 L251.4,772.2 L252.9,767.4 L254.4,777.2 L255.9,780.3 L257.4,792.1 L258.9,770.2 L260.4,779.7 L261.9,753.3 L263.4,775.9 L264.9,769.9 L266.4,773.4 L267.9,756.6 L269.4,756.6 L270.9,742.1 L272.4,765.9 L273.9,747.5 L275.4,772.3 L276.9,763.0 L278.4,785.7 L279.9,777.2 L281.4,775.0 L282.9,758.2 L284.4,774.3 L285.9,754.5 L287.4,779.0 L288.9,747.3 L290.4,764.2 L291.9,748.2 L293.4,757.7 L294.9,746.5 L296.4,770.6 L297.9,737.2 L299.4,761.5 L300.9,735.5 L302.4,758.2 L303.9,745.4 L305.4,758.2 L306.9,734.0 L308.4,747.8 L309.9,709.9 L311.4,728.4 L312.9,706.5 L314.4,735.8 L315.9,724.4 L317.4,734.3 L318.9,716.6 L320.4,748.3 L321.9,730.5 L323.4,759.9 L324.9,755.3 L326.4,780.1 L327.9,787.5 L329.4,819.7 L330.9,822.0 L332.4,849.2 L333.9,845.6 L335.4,863.9 L336.9,857.1 L338.4,875.1 L339.9,869.2 L341.4,883.9 L342.9,882.3 L344.4,889.4 L345.9,875.6 L347.4,880.3 L348.9,865.3 L350.4,880.5 L351.9,875.2 L353.4,881.6 L354.9,870.7 L356.4,880.4 L357.9,864.6 L359.4,878.1 L360.9,872.2 L362.4,880.6 L363.9,874.8 L365.4,879.9 L366.9,871.2 L368.4,880.6 L369.9,870.0 L371.4,882.0 L372.9,878.4 L374.4,886.8 L375.9,880.3 L377.4,887.7 L378.9,882.7 L380.4,886.9 L381.9,882.7 L383.4,891.9 L384.9,878.8 L386.4,888.7 L387.9,886.5 L389.4,892.1 L390.9,889.1 L392.4,897.2 L393.9,890.5 L395.4,898.4 L396.9,894.1 L398.4,899.6 L399.9,892.8 L401.4,899.5 L402.9,897.7 L404.4,900.2 L405.9,898.0 L407.4,902.0 L408.9,899.0 L410.4,903.2 L411.9,898.0 L413.4,903.1 L414.9,900.9 L416.4,902.7 L417.9,901.4 L419.4,904.0 L420.9,901.2 L422.4,904.1 L423.9,902.3 L425.4,904.2 L426.9,902.9 L428.4,904.2 L429.9,903.0 L431.4,904.3 L432.9,902.8 L434.4,904.1" fill="none" stroke="#ff0099" stroke-width="1.5" stroke-linejoin="round"/>
<path d="M90.9,902.8 L92.4,904.3 L93.9,903.1 L95.4,904.3 L96.9,903.0 L98.4,904.3 L99.9,902.6 L101.4,904.3 L102.9,902.9 L104.4,904.3 L105.9,902.0 L107.4,904.2 L108.9,902.0 L110.4,903.9 L111.9,902.2 L113.4,903.5 L114.9,902.5 L116.4,904.3 L117.9,902.2 L119.4,903.0 L120.9,901.8 L122.4,903.4 L123.9,901.0 L125.4,903.0 L126.9,900.2 L128.4,902.8 L129.9,899.7 L131.4,903.3 L132.9,899.5 L134.4,902.6 L135.9,894.3 L137.4,900.8 L138.9,898.4 L140.4,900.5 L141.9,898.1 L143.4,901.7 L144.9,894.1 L146.4,899.9 L147.9,897.1 L149.4,899.4 L150.9,897.8 L152.4,900.0 L153.9,896.5 L155.4,897.7 L156.9,895.5 L158.4,898.9 L159.9,893.4 L161.4,897.2 L162.9,892.0 L164.4,893.3 L165.9,886.9 L167.4,892.6 L168.9,881.9 L170.4,881.2 L171.9,862.1 L173.4,866.5 L174.9,853.4 L176.4,859.4 L177.9,845.9 L179.4,856.4 L180.9,826.2 L182.4,833.8 L183.9,805.6 L185.4,820.0 L186.9,776.0 L188.4,810.0 L189.9,772.4 L191.4,768.8 L192.9,729.1 L194.4,763.6 L195.9,719.0 L197.4,733.0 L198.9,690.2 L200.4,699.8 L201.9,643.2 L203.4,649.8 L204.9,600.5 L206.4,634.0 L207.9,611.1 L209.4,622.6 L210.9,581.5 L212.4,599.5 L213.9,580.1 L215.4,584.7 L216.9,582.0 L218.4,630.3 L219.9,630.6 L221.4,655.8 L222.9,639.1 L224.4,648.3 L225.9,604.4 L227.4,642.8 L228.9,633.3 L230.4,681.6 L231.9,671.3 L233.4,705.0 L234.9,699.4 L236.4,737.3 L237.9,712.8 L239.4,760.8 L240.9,751.0 L242.4,778.0 L243.9,785.6 L245.4,802.5 L246.9,790.1 L248.4,810.7 L249.9,795.8 L251.4,810.1 L252.9,787.3 L254.4,820.7 L255.9,805.2 L257.4,828.2 L258.9,810.3 L260.4,827.5 L261.9,819.8 L263.4,836.1 L264.9,826.7 L266.4,838.8 L267.9,819.4 L269.4,843.2 L270.9,829.1 L272.4,840.9 L273.9,817.1 L275.4,834.2 L276.9,836.0 L278.4,849.3 L279.9,834.2 L281.4,835.4 L282.9,813.3 L284.4,827.6 L285.9,809.9 L287.4,820.7 L288.9,800.2 L290.4,808.3 L291.9,788.2 L293.4,806.1 L294.9,791.9 L296.4,822.6 L297.9,801.1 L299.4,806.1 L300.9,759.0 L302.4,798.5 L303.9,785.4 L305.4,805.1 L306.9,771.4 L308.4,808.4 L309.9,790.5 L311.4,816.3 L312.9,810.4 L314.4,817.3 L315.9,784.4 L317.4,810.0 L318.9,797.7 L320.4,814.5 L321.9,813.6 L323.4,837.9 L324.9,830.3 L326.4,849.1 L327.9,847.0 L329.4,875.2 L330.9,856.5 L332.4,880.2 L333.9,876.8 L335.4,882.5 L336.9,876.2 L338.4,892.8 L339.9,880.6 L341.4,893.6 L342.9,886.2 L344.4,895.6 L345.9,888.9 L347.4,893.1 L348.9,889.7 L350.4,894.6 L351.9,890.1 L353.4,895.6 L354.9,888.2 L356.4,902.7 L357.9,894.1 L359.4,896.9 L360.9,896.3 L362.4,900.0 L363.9,896.9 L365.4,900.2 L366.9,893.9 L368.4,899.0 L369.9,897.2 L371.4,902.8 L372.9,899.0 L374.4,902.0 L375.9,896.9 L377.4,901.7 L378.9,899.9 L380.4,904.3 L381.9,899.6 L383.4,904.2 L384.9,900.7 L386.4,902.8 L387.9,901.5 L389.4,903.5 L390.9,901.4 L392.4,904.3 L393.9,903.3 L395.4,904.3 L396.9,902.5 L398.4,904.3 L399.9,902.4 L401.4,904.3 L402.9,902.4 L404.4,903.9 L405.9,903.3 L407.4,904.3 L408.9,903.4 L410.4,904.3 L411.9,903.2 L413.4,904.3 L414.9,903.3 L416.4,904.3 L417.9,903.3 L419.4,904.3 L420.9,902.7 L422.4,904.1 L423.9,902.8 L425.4,904.1 L426.9,903.2 L428.4,904.3 L429.9,902.4 L431.4,904.3 L432.9,903.4 L434.4,904.3" fill="none" stroke="#000" stroke-width="1.7" stroke-linejoin="round"/>
<path d="M91.0,558.5 V905.5 H438.5 V916.5" fill="none" stroke="#0000ff" stroke-width="2.6"/>
<path d="M80.6,905.5 H91.0 M80.6,818.8 H91.0 M80.6,732.0 H91.0 M80.6,645.2 H91.0 M80.6,558.5 H91.0 M91.0,905.5 V916.5 M124.1,905.5 V916.5 M175.2,905.5 V916.5 M216.3,905.5 V916.5 M251.1,905.5 V916.5 M278.0,905.5 V916.5 M302.7,905.5 V916.5 M325.3,905.5 V916.5 M343.7,905.5 V916.5 " fill="none" stroke="#0000ff" stroke-width="2.6"/>
<text transform="translate(75.0,905.5) rotate(-90) scale(0.88,1)" font-size="28.5" fill="#0000ff" stroke="#0000ff" stroke-width="0.6" text-anchor="middle">0</text>
<text transform="translate(75.0,818.8) rotate(-90) scale(0.88,1)" font-size="28.5" fill="#0000ff" stroke="#0000ff" stroke-width="0.6" text-anchor="middle">50</text>
<text transform="translate(73.0,732.0) rotate(-90) scale(0.88,1)" font-size="28.5" fill="#0000ff" stroke="#0000ff" stroke-width="0.6" text-anchor="middle">1<tspan dx="-2">00</tspan></text>
<text transform="translate(75.0,645.2) rotate(-90) scale(0.88,1)" font-size="28.5" fill="#0000ff" stroke="#0000ff" stroke-width="0.6" text-anchor="middle">1<tspan dx="-2">50</tspan></text>
<text transform="translate(75.0,558.5) rotate(-90) scale(0.88,1)" font-size="28.5" fill="#0000ff" stroke="#0000ff" stroke-width="0.6" text-anchor="middle">200</text>
<text transform="translate(41.5,734.8) rotate(-90)" font-size="25" fill="#000" stroke="#000" stroke-width="0.55" text-anchor="middle" letter-spacing="1.4">Count</text>
<text x="79.0" y="947.5" font-size="14.5" font-weight="bold" fill="#0000ff" text-anchor="end" font-style="italic">10</text>
<text x="79.0" y="942.0" font-size="25" fill="#0000ff" stroke="#0000ff" stroke-width="0.6">6.4</text>
<text x="341.3" y="947.5" font-size="14.5" font-weight="bold" fill="#0000ff" text-anchor="end" font-style="italic">10</text>
<text x="341.3" y="942.0" font-size="25" fill="#0000ff" stroke="#0000ff" stroke-width="0.6">7</text>
<text x="426.5" y="947.5" font-size="14.5" font-weight="bold" fill="#0000ff" text-anchor="end" font-style="italic">10</text>
<text x="426.5" y="942.0" font-size="25" fill="#0000ff" stroke="#0000ff" stroke-width="0.6">7.2</text>
<text x="220.6" y="972.1" font-size="25" fill="#000" stroke="#000" stroke-width="0.55" letter-spacing="0.8">FL1-A</text>
<path d="M341.0,573.3 H387.0" stroke="#000" stroke-width="7"/>
<path d="M341.0,600.7 H387.0" stroke="#ff0099" stroke-width="7"/>
<text x="390.5" y="581.8" font-size="28" fill="#000" letter-spacing="0.8">control</text>
<text x="392.5" y="610.5" font-size="28" fill="#000">30 µM</text>
<path d="M600.9,895.8 L602.4,900.1 L603.9,895.8 L605.4,899.0 L606.9,893.6 L608.4,899.1 L609.9,892.9 L611.4,898.4 L612.9,893.1 L614.4,899.9 L615.9,894.2 L617.4,899.9 L618.9,895.9 L620.4,900.9 L621.9,898.4 L623.4,899.8 L624.9,898.5 L626.4,902.1 L627.9,900.5 L629.4,903.7 L630.9,900.1 L632.4,904.1 L633.9,901.7 L635.4,903.9 L636.9,900.6 L638.4,901.6 L639.9,898.9 L641.4,901.7 L642.9,898.9 L644.4,903.1 L645.9,900.8 L647.4,903.3 L648.9,902.2 L650.4,904.1 L651.9,902.9 L653.4,904.1 L654.9,902.4 L656.4,903.6 L657.9,900.9 L659.4,903.5 L660.9,899.9 L662.4,902.6 L663.9,896.8 L665.4,902.9 L666.9,895.5 L668.4,898.8 L669.9,895.8 L671.4,897.8 L672.9,893.0 L674.4,894.5 L675.9,890.1 L677.4,893.0 L678.9,884.5 L680.4,886.9 L681.9,875.0 L683.4,887.5 L684.9,873.2 L686.4,886.1 L687.9,879.1 L689.4,886.0 L690.9,879.2 L692.4,885.0 L693.9,880.2 L695.4,880.8 L696.9,873.0 L698.4,881.1 L699.9,872.2 L701.4,878.2 L702.9,877.9 L704.4,884.7 L705.9,870.1 L707.4,877.6 L708.9,861.9 L710.4,870.1 L711.9,856.7 L713.4,860.4 L714.9,846.3 L716.4,859.6 L717.9,834.7 L719.4,842.0 L720.9,828.8 L722.4,843.4 L723.9,822.1 L725.4,830.8 L726.9,818.9 L728.4,831.3 L729.9,811.4 L731.4,813.8 L732.9,802.7 L734.4,806.1 L735.9,791.3 L737.4,799.3 L738.9,786.1 L740.4,799.7 L741.9,761.6 L743.4,776.8 L744.9,760.8 L746.4,783.4 L747.9,773.8 L749.4,786.0 L750.9,752.0 L752.4,771.0 L753.9,747.3 L755.4,782.4 L756.9,739.9 L758.4,746.8 L759.9,708.8 L761.4,707.6 L762.9,693.9 L764.4,732.2 L765.9,716.9 L767.4,744.3 L768.9,729.5 L770.4,744.5 L771.9,735.2 L773.4,764.0 L774.9,724.9 L776.4,732.1 L777.9,693.0 L779.4,717.1 L780.9,693.0 L782.4,715.9 L783.9,693.2 L785.4,742.2 L786.9,728.5 L788.4,735.2 L789.9,726.9 L791.4,741.3 L792.9,720.3 L794.4,729.0 L795.9,709.6 L797.4,723.1 L798.9,722.7 L800.4,737.0 L801.9,705.9 L803.4,713.8 L804.9,693.0 L806.4,713.8 L807.9,693.8 L809.4,732.5 L810.9,718.9 L812.4,732.0 L813.9,724.1 L815.4,728.6 L816.9,703.3 L818.4,741.7 L819.9,726.8 L821.4,745.6 L822.9,738.3 L824.4,741.4 L825.9,698.4 L827.4,728.6 L828.9,739.9 L830.4,752.6 L831.9,736.6 L833.4,749.0 L834.9,723.3 L836.4,745.7 L837.9,709.9 L839.4,735.3 L840.9,729.0 L842.4,759.6 L843.9,746.0 L845.4,790.7 L846.9,762.5 L848.4,801.5 L849.9,789.0 L851.4,806.5 L852.9,806.8 L854.4,837.3 L855.9,823.8 L857.4,849.7 L858.9,848.8 L860.4,874.7 L861.9,855.9 L863.4,876.6 L864.9,871.9 L866.4,875.8 L867.9,869.4 L869.4,881.8 L870.9,878.4 L872.4,892.7 L873.9,882.4 L875.4,891.1 L876.9,874.7 L878.4,890.5 L879.9,882.9 L881.4,890.5 L882.9,883.5 L884.4,896.4 L885.9,890.0 L887.4,897.1 L888.9,880.2 L890.4,892.4 L891.9,887.1 L893.4,892.8 L894.9,889.3 L896.4,895.8 L897.9,884.9 L899.4,893.2 L900.9,890.0 L902.4,898.2 L903.9,889.9 L905.4,898.4 L906.9,891.4 L908.4,896.7 L909.9,894.7 L911.4,898.5 L912.9,895.6 L914.4,900.9 L915.9,899.3 L917.4,902.1 L918.9,900.8 L920.4,904.1 L921.9,900.7 L923.4,903.1 L924.9,900.8 L926.4,902.9 L927.9,901.0 L929.4,904.1 L930.9,900.4 L932.4,903.4 L933.9,901.2 L935.4,903.1 L936.9,902.3 L938.4,904.1 L939.9,902.6 L941.4,903.9 L942.9,902.1 L944.4,904.1" fill="none" stroke="#6633cc" stroke-width="1.5" stroke-linejoin="round"/>
<path d="M600.9,902.8 L602.4,904.1 L603.9,902.9 L605.4,904.1 L606.9,902.4 L608.4,904.1 L609.9,903.0 L611.4,904.0 L612.9,901.9 L614.4,904.1 L615.9,902.7 L617.4,904.1 L618.9,902.5 L620.4,904.1 L621.9,902.0 L623.4,903.9 L624.9,901.8 L626.4,903.9 L627.9,902.1 L629.4,903.5 L630.9,901.4 L632.4,903.4 L633.9,902.0 L635.4,904.1 L636.9,901.1 L638.4,904.1 L639.9,900.0 L641.4,904.1 L642.9,899.9 L644.4,902.2 L645.9,898.9 L647.4,901.5 L648.9,896.8 L650.4,898.7 L651.9,896.1 L653.4,900.2 L654.9,896.9 L656.4,901.1 L657.9,898.9 L659.4,903.1 L660.9,898.1 L662.4,901.6 L663.9,898.9 L665.4,902.5 L666.9,898.8 L668.4,900.8 L669.9,894.6 L671.4,900.8 L672.9,888.4 L674.4,891.1 L675.9,881.8 L677.4,886.8 L678.9,874.6 L680.4,878.5 L681.9,865.7 L683.4,875.2 L684.9,850.1 L686.4,860.5 L687.9,842.8 L689.4,850.6 L690.9,834.2 L692.4,842.0 L693.9,808.0 L695.4,808.6 L696.9,789.7 L698.4,789.7 L699.9,767.3 L701.4,770.2 L702.9,749.4 L704.4,750.0 L705.9,721.0 L707.4,718.6 L708.9,690.4 L710.4,689.4 L711.9,633.6 L713.4,629.5 L714.9,619.4 L716.4,632.3 L717.9,599.2 L719.4,618.6 L720.9,592.0 L722.4,605.0 L723.9,582.4 L725.4,592.9 L726.9,595.8 L728.4,669.6 L729.9,647.3 L731.4,673.3 L732.9,635.3 L734.4,649.5 L735.9,636.3 L737.4,672.4 L738.9,666.1 L740.4,686.6 L741.9,707.5 L743.4,729.2 L744.9,716.1 L746.4,748.6 L747.9,753.8 L749.4,781.9 L750.9,763.9 L752.4,810.2 L753.9,790.5 L755.4,811.3 L756.9,799.3 L758.4,818.1 L759.9,792.1 L761.4,803.6 L762.9,797.9 L764.4,824.2 L765.9,815.5 L767.4,834.1 L768.9,819.0 L770.4,833.9 L771.9,826.7 L773.4,840.7 L774.9,829.6 L776.4,846.0 L777.9,830.9 L779.4,852.7 L780.9,839.6 L782.4,862.1 L783.9,850.3 L785.4,863.1 L786.9,835.0 L788.4,852.3 L789.9,833.1 L791.4,841.3 L792.9,821.0 L794.4,823.9 L795.9,817.2 L797.4,833.7 L798.9,795.2 L800.4,816.0 L801.9,809.2 L803.4,826.5 L804.9,813.2 L806.4,822.6 L807.9,805.5 L809.4,822.4 L810.9,807.5 L812.4,820.4 L813.9,807.6 L815.4,825.1 L816.9,816.0 L818.4,834.2 L819.9,804.4 L821.4,837.3 L822.9,820.1 L824.4,831.8 L825.9,841.5 L827.4,862.5 L828.9,855.4 L830.4,870.5 L831.9,869.5 L833.4,882.0 L834.9,874.0 L836.4,881.8 L837.9,880.6 L839.4,887.0 L840.9,883.8 L842.4,891.6 L843.9,887.7 L845.4,897.5 L846.9,895.2 L848.4,900.1 L849.9,896.9 L851.4,902.3 L852.9,898.5 L854.4,902.9 L855.9,894.6 L857.4,901.4 L858.9,899.7 L860.4,902.1 L861.9,900.9 L863.4,902.5 L864.9,900.8 L866.4,903.1 L867.9,900.7 L869.4,903.2 L870.9,898.8 L872.4,902.0 L873.9,900.0 L875.4,902.8 L876.9,900.0 L878.4,904.0 L879.9,900.3 L881.4,903.7 L882.9,901.7 L884.4,904.1 L885.9,903.0 L887.4,903.6 L888.9,903.3 L890.4,904.1 L891.9,903.3 L893.4,904.1 L894.9,902.2 L896.4,904.1 L897.9,903.5 L899.4,904.1 L900.9,903.0 L902.4,903.5 L903.9,902.7 L905.4,903.9 L906.9,903.1 L908.4,904.1 L909.9,903.2 L911.4,903.9 L912.9,903.1 L914.4,903.7 L915.9,902.3 L917.4,904.1 L918.9,902.5 L920.4,904.1 L921.9,901.7 L923.4,904.1 L924.9,903.1 L926.4,904.1 L927.9,902.9 L929.4,904.1 L930.9,903.1 L932.4,904.1 L933.9,903.2 L935.4,904.1 L936.9,902.1 L938.4,904.1 L939.9,903.4 L941.4,904.1 L942.9,901.9 L944.4,904.1" fill="none" stroke="#000" stroke-width="1.7" stroke-linejoin="round"/>
<path d="M601.0,558.3 V905.3 H948.5 V916.3" fill="none" stroke="#0000ff" stroke-width="2.6"/>
<path d="M592.4,905.3 H601.0 M592.4,818.5 H601.0 M592.4,731.8 H601.0 M592.4,645.0 H601.0 M592.4,558.3 H601.0 M601.0,905.3 V916.3 M634.1,905.3 V916.3 M685.2,905.3 V916.3 M726.3,905.3 V916.3 M761.1,905.3 V916.3 M788.0,905.3 V916.3 M812.7,905.3 V916.3 M835.3,905.3 V916.3 M853.7,905.3 V916.3 " fill="none" stroke="#0000ff" stroke-width="2.6"/>
<text transform="translate(587.0,904.3) rotate(-90) scale(0.88,1)" font-size="28.5" fill="#0000ff" stroke="#0000ff" stroke-width="0.6" text-anchor="middle">0</text>
<text transform="translate(587.0,817.5) rotate(-90) scale(0.88,1)" font-size="28.5" fill="#0000ff" stroke="#0000ff" stroke-width="0.6" text-anchor="middle">50</text>
<text transform="translate(585.0,730.8) rotate(-90) scale(0.88,1)" font-size="28.5" fill="#0000ff" stroke="#0000ff" stroke-width="0.6" text-anchor="middle">1<tspan dx="-2">00</tspan></text>
<text transform="translate(587.0,644.0) rotate(-90) scale(0.88,1)" font-size="28.5" fill="#0000ff" stroke="#0000ff" stroke-width="0.6" text-anchor="middle">1<tspan dx="-2">50</tspan></text>
<text transform="translate(587.0,557.3) rotate(-90) scale(0.88,1)" font-size="28.5" fill="#0000ff" stroke="#0000ff" stroke-width="0.6" text-anchor="middle">200</text>
<text transform="translate(550.9,734.8) rotate(-90)" font-size="25" fill="#000" stroke="#000" stroke-width="0.55" text-anchor="middle" letter-spacing="1.4">Count</text>
<text x="590.0" y="946.3" font-size="14.5" font-weight="bold" fill="#0000ff" text-anchor="end" font-style="italic">10</text>
<text x="590.0" y="940.8" font-size="25" fill="#0000ff" stroke="#0000ff" stroke-width="0.6">6.4</text>
<text x="852.3" y="946.3" font-size="14.5" font-weight="bold" fill="#0000ff" text-anchor="end" font-style="italic">10</text>
<text x="852.3" y="940.8" font-size="25" fill="#0000ff" stroke="#0000ff" stroke-width="0.6">7</text>
<text x="937.5" y="946.3" font-size="14.5" font-weight="bold" fill="#0000ff" text-anchor="end" font-style="italic">10</text>
<text x="937.5" y="940.8" font-size="25" fill="#0000ff" stroke="#0000ff" stroke-width="0.6">7.2</text>
<text x="731.9" y="970.2" font-size="25" fill="#000" stroke="#000" stroke-width="0.55" letter-spacing="0.8">FL1-A</text>
<path d="M861.0,573.8 H907.5" stroke="#000" stroke-width="7"/>
<path d="M861.0,600.7 H907.5" stroke="#6633cc" stroke-width="7"/>
<text x="913.5" y="582.3" font-size="28" fill="#000" letter-spacing="0.8">control</text>
<text x="913.7" y="610.5" font-size="28" fill="#000">40 µM</text>
<path d="M1109.9,898.2 L1111.4,901.7 L1112.9,896.8 L1114.4,899.6 L1115.9,895.7 L1117.4,899.8 L1118.9,896.6 L1120.4,899.7 L1121.9,893.1 L1123.4,899.2 L1124.9,894.3 L1126.4,901.4 L1127.9,895.4 L1129.4,904.1 L1130.9,896.6 L1132.4,900.7 L1133.9,895.6 L1135.4,902.2 L1136.9,897.4 L1138.4,902.9 L1139.9,898.6 L1141.4,902.9 L1142.9,898.7 L1144.4,903.6 L1145.9,900.4 L1147.4,902.4 L1148.9,901.5 L1150.4,904.1 L1151.9,901.2 L1153.4,903.2 L1154.9,902.5 L1156.4,903.8 L1157.9,902.6 L1159.4,904.1 L1160.9,902.0 L1162.4,903.3 L1163.9,900.9 L1165.4,901.7 L1166.9,900.8 L1168.4,903.2 L1169.9,900.2 L1171.4,902.5 L1172.9,900.4 L1174.4,902.1 L1175.9,899.5 L1177.4,903.9 L1178.9,900.3 L1180.4,901.8 L1181.9,899.6 L1183.4,902.5 L1184.9,899.5 L1186.4,900.3 L1187.9,897.0 L1189.4,898.7 L1190.9,889.8 L1192.4,890.2 L1193.9,883.2 L1195.4,885.0 L1196.9,874.7 L1198.4,878.6 L1199.9,871.4 L1201.4,877.7 L1202.9,869.0 L1204.4,873.6 L1205.9,857.3 L1207.4,868.5 L1208.9,860.4 L1210.4,867.9 L1211.9,857.7 L1213.4,866.1 L1214.9,859.2 L1216.4,868.1 L1217.9,859.7 L1219.4,870.9 L1220.9,861.3 L1222.4,872.1 L1223.9,866.0 L1225.4,863.1 L1226.9,842.8 L1228.4,853.5 L1229.9,832.9 L1231.4,847.4 L1232.9,825.7 L1234.4,833.4 L1235.9,816.4 L1237.4,834.3 L1238.9,816.4 L1240.4,833.1 L1241.9,806.0 L1243.4,814.0 L1244.9,794.7 L1246.4,801.2 L1247.9,779.8 L1249.4,784.4 L1250.9,757.6 L1252.4,769.3 L1253.9,735.8 L1255.4,741.8 L1256.9,732.0 L1258.4,748.6 L1259.9,736.4 L1261.4,754.2 L1262.9,744.8 L1264.4,763.8 L1265.9,748.5 L1267.4,781.0 L1268.9,741.0 L1270.4,755.1 L1271.9,729.9 L1273.4,742.0 L1274.9,721.2 L1276.4,741.3 L1277.9,701.5 L1279.4,724.6 L1280.9,708.0 L1282.4,732.6 L1283.9,725.6 L1285.4,735.9 L1286.9,709.2 L1288.4,743.5 L1289.9,729.7 L1291.4,738.9 L1292.9,707.3 L1294.4,729.6 L1295.9,689.1 L1297.4,724.0 L1298.9,685.3 L1300.4,714.1 L1301.9,695.8 L1303.4,709.8 L1304.9,703.6 L1306.4,730.2 L1307.9,722.2 L1309.4,724.6 L1310.9,704.4 L1312.4,717.5 L1313.9,698.3 L1315.4,713.7 L1316.9,683.6 L1318.4,709.6 L1319.9,687.5 L1321.4,707.3 L1322.9,702.7 L1324.4,723.8 L1325.9,709.8 L1327.4,763.9 L1328.9,724.2 L1330.4,733.8 L1331.9,720.9 L1333.4,751.5 L1334.9,731.9 L1336.4,734.1 L1337.9,712.2 L1339.4,725.2 L1340.9,703.9 L1342.4,695.7 L1343.9,683.6 L1345.4,715.1 L1346.9,691.3 L1348.4,744.5 L1349.9,733.7 L1351.4,756.7 L1352.9,742.8 L1354.4,757.1 L1355.9,752.2 L1357.4,774.8 L1358.9,762.1 L1360.4,793.7 L1361.9,789.6 L1363.4,819.7 L1364.9,808.0 L1366.4,831.2 L1367.9,826.6 L1369.4,845.5 L1370.9,843.5 L1372.4,864.4 L1373.9,867.4 L1375.4,883.5 L1376.9,878.4 L1378.4,880.0 L1379.9,875.6 L1381.4,879.5 L1382.9,865.9 L1384.4,879.4 L1385.9,878.7 L1387.4,888.8 L1388.9,885.5 L1390.4,895.4 L1391.9,891.8 L1393.4,893.5 L1394.9,890.2 L1396.4,892.3 L1397.9,886.8 L1399.4,891.9 L1400.9,886.4 L1402.4,889.4 L1403.9,888.5 L1405.4,893.8 L1406.9,888.1 L1408.4,893.7 L1409.9,886.6 L1411.4,891.0 L1412.9,885.8 L1414.4,893.2 L1415.9,890.1 L1417.4,897.3 L1418.9,895.9 L1420.4,899.8 L1421.9,897.8 L1423.4,900.2 L1424.9,895.6 L1426.4,898.7 L1427.9,897.1 L1429.4,901.0 L1430.9,897.6 L1432.4,902.7 L1433.9,896.4 L1435.4,904.1 L1436.9,901.6 L1438.4,903.9 L1439.9,901.3 L1441.4,903.5 L1442.9,900.8 L1444.4,903.1 L1445.9,901.1 L1447.4,903.2 L1448.9,900.9 L1450.4,904.1 L1451.9,902.6 L1453.4,903.8" fill="none" stroke="#99cc33" stroke-width="1.5" stroke-linejoin="round"/>
<path d="M1109.9,902.8 L1111.4,904.1 L1112.9,902.9 L1114.4,904.1 L1115.9,902.4 L1117.4,904.1 L1118.9,903.0 L1120.4,904.0 L1121.9,901.9 L1123.4,904.1 L1124.9,902.7 L1126.4,904.1 L1127.9,902.5 L1129.4,904.1 L1130.9,902.0 L1132.4,903.9 L1133.9,901.8 L1135.4,903.9 L1136.9,902.1 L1138.4,903.5 L1139.9,901.4 L1141.4,903.4 L1142.9,902.0 L1144.4,904.1 L1145.9,901.1 L1147.4,904.1 L1148.9,900.0 L1150.4,904.1 L1151.9,899.9 L1153.4,902.2 L1154.9,898.9 L1156.4,901.5 L1157.9,896.8 L1159.4,898.7 L1160.9,896.1 L1162.4,900.2 L1163.9,896.9 L1165.4,901.1 L1166.9,898.9 L1168.4,903.1 L1169.9,898.1 L1171.4,901.6 L1172.9,898.9 L1174.4,902.5 L1175.9,898.8 L1177.4,900.8 L1178.9,894.6 L1180.4,900.8 L1181.9,888.4 L1183.4,891.1 L1184.9,881.8 L1186.4,886.8 L1187.9,874.6 L1189.4,878.5 L1190.9,865.7 L1192.4,875.2 L1193.9,850.1 L1195.4,860.5 L1196.9,842.8 L1198.4,850.6 L1199.9,834.2 L1201.4,842.0 L1202.9,808.0 L1204.4,808.6 L1205.9,789.7 L1207.4,789.7 L1208.9,767.3 L1210.4,770.2 L1211.9,749.4 L1213.4,750.0 L1214.9,721.0 L1216.4,718.6 L1217.9,690.4 L1219.4,689.4 L1220.9,633.6 L1222.4,629.5 L1223.9,619.4 L1225.4,632.3 L1226.9,599.2 L1228.4,618.6 L1229.9,592.0 L1231.4,605.0 L1232.9,582.4 L1234.4,592.9 L1235.9,595.8 L1237.4,669.6 L1238.9,647.3 L1240.4,673.3 L1241.9,635.3 L1243.4,649.5 L1244.9,636.3 L1246.4,672.4 L1247.9,666.1 L1249.4,686.6 L1250.9,707.5 L1252.4,729.2 L1253.9,716.1 L1255.4,748.6 L1256.9,753.8 L1258.4,781.9 L1259.9,763.9 L1261.4,810.2 L1262.9,790.5 L1264.4,811.3 L1265.9,799.3 L1267.4,818.1 L1268.9,792.1 L1270.4,803.6 L1271.9,797.9 L1273.4,824.2 L1274.9,815.5 L1276.4,834.1 L1277.9,819.0 L1279.4,833.9 L1280.9,826.7 L1282.4,840.7 L1283.9,829.6 L1285.4,846.0 L1286.9,830.9 L1288.4,852.7 L1289.9,839.6 L1291.4,862.1 L1292.9,850.3 L1294.4,863.1 L1295.9,835.0 L1297.4,852.3 L1298.9,833.1 L1300.4,841.3 L1301.9,821.0 L1303.4,823.9 L1304.9,817.2 L1306.4,833.7 L1307.9,795.2 L1309.4,816.0 L1310.9,809.2 L1312.4,826.5 L1313.9,813.2 L1315.4,822.6 L1316.9,805.5 L1318.4,822.4 L1319.9,807.5 L1321.4,820.4 L1322.9,807.6 L1324.4,825.1 L1325.9,816.0 L1327.4,834.2 L1328.9,804.4 L1330.4,837.3 L1331.9,820.1 L1333.4,831.8 L1334.9,841.5 L1336.4,862.5 L1337.9,855.4 L1339.4,870.5 L1340.9,869.5 L1342.4,882.0 L1343.9,874.0 L1345.4,881.8 L1346.9,880.6 L1348.4,887.0 L1349.9,883.8 L1351.4,891.6 L1352.9,887.7 L1354.4,897.5 L1355.9,895.2 L1357.4,900.1 L1358.9,896.9 L1360.4,902.3 L1361.9,898.5 L1363.4,902.9 L1364.9,894.6 L1366.4,901.4 L1367.9,899.7 L1369.4,902.1 L1370.9,900.9 L1372.4,902.5 L1373.9,900.8 L1375.4,903.1 L1376.9,900.7 L1378.4,903.2 L1379.9,898.8 L1381.4,902.0 L1382.9,900.0 L1384.4,902.8 L1385.9,900.0 L1387.4,904.0 L1388.9,900.3 L1390.4,903.7 L1391.9,901.7 L1393.4,904.1 L1394.9,903.0 L1396.4,903.6 L1397.9,903.3 L1399.4,904.1 L1400.9,903.3 L1402.4,904.1 L1403.9,902.2 L1405.4,904.1 L1406.9,903.5 L1408.4,904.1 L1409.9,903.0 L1411.4,903.5 L1412.9,902.7 L1414.4,903.9 L1415.9,903.1 L1417.4,904.1 L1418.9,903.2 L1420.4,903.9 L1421.9,903.1 L1423.4,903.7 L1424.9,902.3 L1426.4,904.1 L1427.9,902.5 L1429.4,904.1 L1430.9,901.7 L1432.4,904.1 L1433.9,903.1 L1435.4,904.1 L1436.9,902.9 L1438.4,904.1 L1439.9,903.1 L1441.4,904.1 L1442.9,903.2 L1444.4,904.1 L1445.9,902.1 L1447.4,904.1 L1448.9,903.4 L1450.4,904.1 L1451.9,901.9 L1453.4,904.1" fill="none" stroke="#000" stroke-width="1.7" stroke-linejoin="round"/>
<path d="M1110.0,558.3 V905.3 H1457.5 V916.3" fill="none" stroke="#0000ff" stroke-width="2.6"/>
<path d="M1099.0,905.3 H1110.0 M1099.0,818.5 H1110.0 M1099.0,731.8 H1110.0 M1099.0,645.0 H1110.0 M1099.0,558.3 H1110.0 M1110.0,905.3 V916.3 M1143.1,905.3 V916.3 M1194.2,905.3 V916.3 M1235.3,905.3 V916.3 M1270.1,905.3 V916.3 M1297.0,905.3 V916.3 M1321.7,905.3 V916.3 M1344.3,905.3 V916.3 M1362.7,905.3 V916.3 " fill="none" stroke="#0000ff" stroke-width="2.6"/>
<text transform="translate(1093.0,904.3) rotate(-90) scale(0.88,1)" font-size="28.5" fill="#0000ff" stroke="#0000ff" stroke-width="0.6" text-anchor="middle">0</text>
<text transform="translate(1093.0,817.5) rotate(-90) scale(0.88,1)" font-size="28.5" fill="#0000ff" stroke="#0000ff" stroke-width="0.6" text-anchor="middle">50</text>
<text transform="translate(1091.0,730.8) rotate(-90) scale(0.88,1)" font-size="28.5" fill="#0000ff" stroke="#0000ff" stroke-width="0.6" text-anchor="middle">1<tspan dx="-2">00</tspan></text>
<text transform="translate(1093.0,644.0) rotate(-90) scale(0.88,1)" font-size="28.5" fill="#0000ff" stroke="#0000ff" stroke-width="0.6" text-anchor="middle">1<tspan dx="-2">50</tspan></text>
<text transform="translate(1093.0,557.3) rotate(-90) scale(0.88,1)" font-size="28.5" fill="#0000ff" stroke="#0000ff" stroke-width="0.6" text-anchor="middle">200</text>
<text transform="translate(1058.9,734.6) rotate(-90)" font-size="25" fill="#000" stroke="#000" stroke-width="0.55" text-anchor="middle" letter-spacing="1.4">Count</text>
<text x="1100.0" y="947.6" font-size="14.5" font-weight="bold" fill="#0000ff" text-anchor="end" font-style="italic">10</text>
<text x="1100.0" y="942.1" font-size="25" fill="#0000ff" stroke="#0000ff" stroke-width="0.6">6.4</text>
<text x="1362.3" y="947.6" font-size="14.5" font-weight="bold" fill="#0000ff" text-anchor="end" font-style="italic">10</text>
<text x="1362.3" y="942.1" font-size="25" fill="#0000ff" stroke="#0000ff" stroke-width="0.6">7</text>
<text x="1447.5" y="947.6" font-size="14.5" font-weight="bold" fill="#0000ff" text-anchor="end" font-style="italic">10</text>
<text x="1447.5" y="942.1" font-size="25" fill="#0000ff" stroke="#0000ff" stroke-width="0.6">7.2</text>
<text x="1241.9" y="972.1" font-size="25" fill="#000" stroke="#000" stroke-width="0.55" letter-spacing="0.8">FL1-A</text>
<path d="M1359.0,572.6 H1405.0" stroke="#000" stroke-width="7"/>
<path d="M1359.0,600.9 H1405.0" stroke="#99cc33" stroke-width="7"/>
<text x="1408.0" y="581.1" font-size="28" fill="#000" letter-spacing="0.8">control</text>
<text x="1410.2" y="610.7" font-size="28" fill="#000">50 µM</text>
<path d="M225,1053.1 H238.5 V1157.4 M230,1157.4 H249.5 M225,1112.7 H238.5" fill="none" stroke="#000" stroke-width="3"/>
<path d="M230,1200.6 H249.5 M238.5,1200.6 V1618.8 M225,1618.8 H1191" fill="none" stroke="#000" stroke-width="3"/>
<path d="M225,1522.5 H238.5 M225,1426.2 H238.5 M225,1329.9 H238.5 M225,1233.6 H238.5 M305.6,1618.8 V1632 M442.6,1618.8 V1632 M579.6,1618.8 V1632 M716.6,1618.8 V1632 M853.6,1618.8 V1632 M990.6,1618.8 V1632 M1127.6,1618.8 V1632 " stroke="#000" stroke-width="3"/>
<text transform="translate(216.8,1064.0) scale(0.95,1)" font-size="38.5" font-weight="bold" fill="#000" text-anchor="end">100</text>
<text transform="translate(216.8,1123.6) scale(0.95,1)" font-size="38.5" font-weight="bold" fill="#000" text-anchor="end">80</text>
<text transform="translate(216.8,1244.5) scale(0.95,1)" font-size="38.5" font-weight="bold" fill="#000" text-anchor="end">60</text>
<text transform="translate(216.8,1340.8) scale(0.95,1)" font-size="38.5" font-weight="bold" fill="#000" text-anchor="end">45</text>
<text transform="translate(216.8,1437.1) scale(0.95,1)" font-size="38.5" font-weight="bold" fill="#000" text-anchor="end">30</text>
<text transform="translate(216.8,1533.4) scale(0.95,1)" font-size="38.5" font-weight="bold" fill="#000" text-anchor="end">15</text>
<text transform="translate(216.8,1629.7) scale(0.95,1)" font-size="38.5" font-weight="bold" fill="#000" text-anchor="end">0</text>
<path d="M277.1,1241.9 V1225.5 M270.6,1226.0 H283.6" stroke="#000" stroke-width="2.7" fill="none"/>
<rect x="265.60" y="1243.15" width="21.00" height="375.65" fill="#ffffff" stroke="#000" stroke-width="4.5"/>
<path d="M306.6,1526.0 V1523.0 M300.1,1523.5 H313.1" stroke="#000" stroke-width="2.7" fill="none"/>
<rect x="295.10" y="1527.25" width="21.00" height="91.55" fill="#a0a0a7" stroke="#000" stroke-width="4.5"/>
<path d="M336.1,1444.5 V1426.0 M329.6,1426.5 H342.6" stroke="#000" stroke-width="2.7" fill="none"/>
<rect x="324.60" y="1445.75" width="21.00" height="173.05" fill="#333333" stroke="#000" stroke-width="4.5"/>
<path d="M414.1,1234.7 V1200.8 M407.6,1201.3 H420.6" stroke="#000" stroke-width="2.7" fill="none"/>
<rect x="402.60" y="1235.95" width="21.00" height="382.85" fill="#ffffff" stroke="#000" stroke-width="4.5"/>
<rect x="432.10" y="1531.25" width="21.00" height="87.55" fill="#a0a0a7" stroke="#000" stroke-width="4.5"/>
<path d="M473.1,1444.5 V1436.5 M466.6,1437.0 H479.6" stroke="#000" stroke-width="2.7" fill="none"/>
<rect x="461.60" y="1445.75" width="21.00" height="173.05" fill="#333333" stroke="#000" stroke-width="4.5"/>
<path d="M551.1,1277.0 V1265.7 M544.6,1266.2 H557.6" stroke="#000" stroke-width="2.7" fill="none"/>
<rect x="539.60" y="1278.25" width="21.00" height="340.55" fill="#ffffff" stroke="#000" stroke-width="4.5"/>
<path d="M580.6,1517.7 V1508.0 M574.1,1508.5 H587.1" stroke="#000" stroke-width="2.7" fill="none"/>
<rect x="569.10" y="1518.95" width="21.00" height="99.85" fill="#a0a0a7" stroke="#000" stroke-width="4.5"/>
<path d="M610.1,1415.0 V1405.4 M603.6,1405.9 H616.6" stroke="#000" stroke-width="2.7" fill="none"/>
<rect x="598.60" y="1416.25" width="21.00" height="202.55" fill="#333333" stroke="#000" stroke-width="4.5"/>
<path d="M688.1,1352.5 V1345.2 M681.6,1345.7 H694.6" stroke="#000" stroke-width="2.7" fill="none"/>
<rect x="676.60" y="1353.75" width="21.00" height="265.05" fill="#ffffff" stroke="#000" stroke-width="4.5"/>
<path d="M717.6,1490.6 V1470.5 M711.1,1471.0 H724.1" stroke="#000" stroke-width="2.7" fill="none"/>
<rect x="706.10" y="1491.85" width="21.00" height="126.95" fill="#a0a0a7" stroke="#000" stroke-width="4.5"/>
<path d="M747.1,1369.5 V1360.5 M740.6,1361.0 H753.6" stroke="#000" stroke-width="2.7" fill="none"/>
<rect x="735.60" y="1370.75" width="21.00" height="248.05" fill="#333333" stroke="#000" stroke-width="4.5"/>
<path d="M825.1,1349.5 V1340.4 M818.6,1340.9 H831.6" stroke="#000" stroke-width="2.7" fill="none"/>
<rect x="813.60" y="1350.75" width="21.00" height="268.05" fill="#ffffff" stroke="#000" stroke-width="4.5"/>
<rect x="843.10" y="1481.85" width="21.00" height="136.95" fill="#a0a0a7" stroke="#000" stroke-width="4.5"/>
<path d="M884.1,1381.5 V1375.7 M877.6,1376.2 H890.6" stroke="#000" stroke-width="2.7" fill="none"/>
<rect x="872.60" y="1382.75" width="21.00" height="236.05" fill="#333333" stroke="#000" stroke-width="4.5"/>
<path d="M962.1,1460.6 V1451.0 M955.6,1451.5 H968.6" stroke="#000" stroke-width="2.7" fill="none"/>
<rect x="950.60" y="1461.85" width="21.00" height="156.95" fill="#ffffff" stroke="#000" stroke-width="4.5"/>
<path d="M991.6,1429.7 V1413.5 M985.1,1414.0 H998.1" stroke="#000" stroke-width="2.7" fill="none"/>
<rect x="980.10" y="1430.95" width="21.00" height="187.85" fill="#a0a0a7" stroke="#000" stroke-width="4.5"/>
<path d="M1021.1,1320.0 V1306.0 M1014.6,1306.5 H1027.6" stroke="#000" stroke-width="2.7" fill="none"/>
<rect x="1009.60" y="1321.25" width="21.00" height="297.55" fill="#333333" stroke="#000" stroke-width="4.5"/>
<rect x="1087.60" y="1469.85" width="21.00" height="148.95" fill="#ffffff" stroke="#000" stroke-width="4.5"/>
<path d="M1128.6,1435.3 V1424.0 M1122.1,1424.5 H1135.1" stroke="#000" stroke-width="2.7" fill="none"/>
<rect x="1117.10" y="1436.55" width="21.00" height="182.25" fill="#a0a0a7" stroke="#000" stroke-width="4.5"/>
<path d="M1158.1,1310.5 V1303.0 M1151.6,1303.5 H1164.6" stroke="#000" stroke-width="2.7" fill="none"/>
<rect x="1146.60" y="1311.75" width="21.00" height="307.05" fill="#333333" stroke="#000" stroke-width="4.5"/>
<path d="M552.20,1239.50 L552.20,1231.30 M552.20,1239.50 L560.00,1236.97 M552.20,1239.50 L544.40,1236.97 M552.20,1239.50 L557.02,1246.13 M552.20,1239.50 L547.38,1246.13 M610.50,1378.00 L610.50,1369.80 M610.50,1378.00 L618.30,1375.47 M610.50,1378.00 L602.70,1375.47 M610.50,1378.00 L615.32,1384.63 M610.50,1378.00 L605.68,1384.63 M687.20,1290.80 L687.20,1282.60 M687.20,1290.80 L695.00,1288.27 M687.20,1290.80 L679.40,1288.27 M687.20,1290.80 L692.02,1297.43 M687.20,1290.80 L682.38,1297.43 M687.20,1312.60 L687.20,1304.40 M687.20,1312.60 L695.00,1310.07 M687.20,1312.60 L679.40,1310.07 M687.20,1312.60 L692.02,1319.23 M687.20,1312.60 L682.38,1319.23 M717.60,1439.70 L717.60,1431.50 M717.60,1439.70 L725.40,1437.17 M717.60,1439.70 L709.80,1437.17 M717.60,1439.70 L722.42,1446.33 M717.60,1439.70 L712.78,1446.33 M744.90,1302.80 L744.90,1294.60 M744.90,1302.80 L752.70,1300.27 M744.90,1302.80 L737.10,1300.27 M744.90,1302.80 L749.72,1309.43 M744.90,1302.80 L740.08,1309.43 M744.90,1324.60 L744.90,1316.40 M744.90,1324.60 L752.70,1322.07 M744.90,1324.60 L737.10,1322.07 M744.90,1324.60 L749.72,1331.23 M744.90,1324.60 L740.08,1331.23 M823.00,1290.00 L823.00,1281.80 M823.00,1290.00 L830.80,1287.47 M823.00,1290.00 L815.20,1287.47 M823.00,1290.00 L827.82,1296.63 M823.00,1290.00 L818.18,1296.63 M823.00,1312.00 L823.00,1303.80 M823.00,1312.00 L830.80,1309.47 M823.00,1312.00 L815.20,1309.47 M823.00,1312.00 L827.82,1318.63 M823.00,1312.00 L818.18,1318.63 M852.90,1439.70 L852.90,1431.50 M852.90,1439.70 L860.70,1437.17 M852.90,1439.70 L845.10,1437.17 M852.90,1439.70 L857.72,1446.33 M852.90,1439.70 L848.08,1446.33 M880.60,1302.40 L880.60,1294.20 M880.60,1302.40 L888.40,1299.87 M880.60,1302.40 L872.80,1299.87 M880.60,1302.40 L885.42,1309.03 M880.60,1302.40 L875.78,1309.03 M880.60,1324.40 L880.60,1316.20 M880.60,1324.40 L888.40,1321.87 M880.60,1324.40 L872.80,1321.87 M880.60,1324.40 L885.42,1331.03 M880.60,1324.40 L875.78,1331.03 M958.20,1372.70 L958.20,1364.50 M958.20,1372.70 L966.00,1370.17 M958.20,1372.70 L950.40,1370.17 M958.20,1372.70 L963.02,1379.33 M958.20,1372.70 L953.38,1379.33 M958.20,1395.10 L958.20,1386.90 M958.20,1395.10 L966.00,1392.57 M958.20,1395.10 L950.40,1392.57 M958.20,1395.10 L963.02,1401.73 M958.20,1395.10 L953.38,1401.73 M958.20,1417.50 L958.20,1409.30 M958.20,1417.50 L966.00,1414.97 M958.20,1417.50 L950.40,1414.97 M958.20,1417.50 L963.02,1424.13 M958.20,1417.50 L953.38,1424.13 M991.00,1392.70 L991.00,1384.50 M991.00,1392.70 L998.80,1390.17 M991.00,1392.70 L983.20,1390.17 M991.00,1392.70 L995.82,1399.33 M991.00,1392.70 L986.18,1399.33 M1018.30,1232.60 L1018.30,1224.40 M1018.30,1232.60 L1026.10,1230.07 M1018.30,1232.60 L1010.50,1230.07 M1018.30,1232.60 L1023.12,1239.23 M1018.30,1232.60 L1013.48,1239.23 M1018.30,1255.00 L1018.30,1246.80 M1018.30,1255.00 L1026.10,1252.47 M1018.30,1255.00 L1010.50,1252.47 M1018.30,1255.00 L1023.12,1261.63 M1018.30,1255.00 L1013.48,1261.63 M1018.30,1277.40 L1018.30,1269.20 M1018.30,1277.40 L1026.10,1274.87 M1018.30,1277.40 L1010.50,1274.87 M1018.30,1277.40 L1023.12,1284.03 M1018.30,1277.40 L1013.48,1284.03 M1095.90,1372.70 L1095.90,1364.50 M1095.90,1372.70 L1103.70,1370.17 M1095.90,1372.70 L1088.10,1370.17 M1095.90,1372.70 L1100.72,1379.33 M1095.90,1372.70 L1091.08,1379.33 M1095.90,1395.10 L1095.90,1386.90 M1095.90,1395.10 L1103.70,1392.57 M1095.90,1395.10 L1088.10,1392.57 M1095.90,1395.10 L1100.72,1401.73 M1095.90,1395.10 L1091.08,1401.73 M1095.90,1417.50 L1095.90,1409.30 M1095.90,1417.50 L1103.70,1414.97 M1095.90,1417.50 L1088.10,1414.97 M1095.90,1417.50 L1100.72,1424.13 M1095.90,1417.50 L1091.08,1424.13 M1128.40,1370.30 L1128.40,1362.10 M1128.40,1370.30 L1136.20,1367.77 M1128.40,1370.30 L1120.60,1367.77 M1128.40,1370.30 L1133.22,1376.93 M1128.40,1370.30 L1123.58,1376.93 M1128.40,1392.70 L1128.40,1384.50 M1128.40,1392.70 L1136.20,1390.17 M1128.40,1392.70 L1120.60,1390.17 M1128.40,1392.70 L1133.22,1399.33 M1128.40,1392.70 L1123.58,1399.33 M1155.90,1232.60 L1155.90,1224.40 M1155.90,1232.60 L1163.70,1230.07 M1155.90,1232.60 L1148.10,1230.07 M1155.90,1232.60 L1160.72,1239.23 M1155.90,1232.60 L1151.08,1239.23 M1155.90,1255.00 L1155.90,1246.80 M1155.90,1255.00 L1163.70,1252.47 M1155.90,1255.00 L1148.10,1252.47 M1155.90,1255.00 L1160.72,1261.63 M1155.90,1255.00 L1151.08,1261.63 M1155.90,1277.40 L1155.90,1269.20 M1155.90,1277.40 L1163.70,1274.87 M1155.90,1277.40 L1148.10,1274.87 M1155.90,1277.40 L1160.72,1284.03 M1155.90,1277.40 L1151.08,1284.03 " stroke="#000" stroke-width="2.4" stroke-linecap="round" fill="none"/>
<text x="304.6" y="1668.5" font-size="36.5" font-weight="bold" fill="#000" text-anchor="middle">control</text>
<text x="441.6" y="1668.5" font-size="36.5" font-weight="bold" fill="#000" text-anchor="middle">1 µM</text>
<text x="578.6" y="1668.5" font-size="36.5" font-weight="bold" fill="#000" text-anchor="middle">10 µM</text>
<text x="715.6" y="1668.5" font-size="36.5" font-weight="bold" fill="#000" text-anchor="middle">20 µM</text>
<text x="852.6" y="1668.5" font-size="36.5" font-weight="bold" fill="#000" text-anchor="middle">30 µM</text>
<text x="989.6" y="1668.5" font-size="36.5" font-weight="bold" fill="#000" text-anchor="middle">40 µM</text>
<text x="1126.6" y="1668.5" font-size="36.5" font-weight="bold" fill="#000" text-anchor="middle">50 µM</text>
<text transform="translate(133.8,1331) rotate(-90) scale(1,0.93)" font-size="42" font-weight="bold" fill="#000" text-anchor="middle">% of parasites</text>
<rect x="1204.2" y="1179.4" width="52.5" height="26.8" rx="2" fill="#ffffff" stroke="#000" stroke-width="4.5"/>
<text x="1286" y="1206.8" font-size="41" fill="#000" textLength="47" lengthAdjust="spacingAndGlyphs">G1</text>
<rect x="1204.2" y="1237.0" width="52.5" height="26.8" rx="2" fill="#a0a0a7" stroke="#000" stroke-width="4.5"/>
<text x="1286" y="1264.4" font-size="41" fill="#000">S</text>
<rect x="1204.2" y="1294.6" width="52.5" height="26.8" rx="2" fill="#333333" stroke="#000" stroke-width="4.5"/>
<text x="1286" y="1322.0" font-size="41" fill="#000">G2/M</text>
<text x="91" y="1049.4" font-size="41" font-weight="bold" fill="#000">B</text>
</svg></body></html>
